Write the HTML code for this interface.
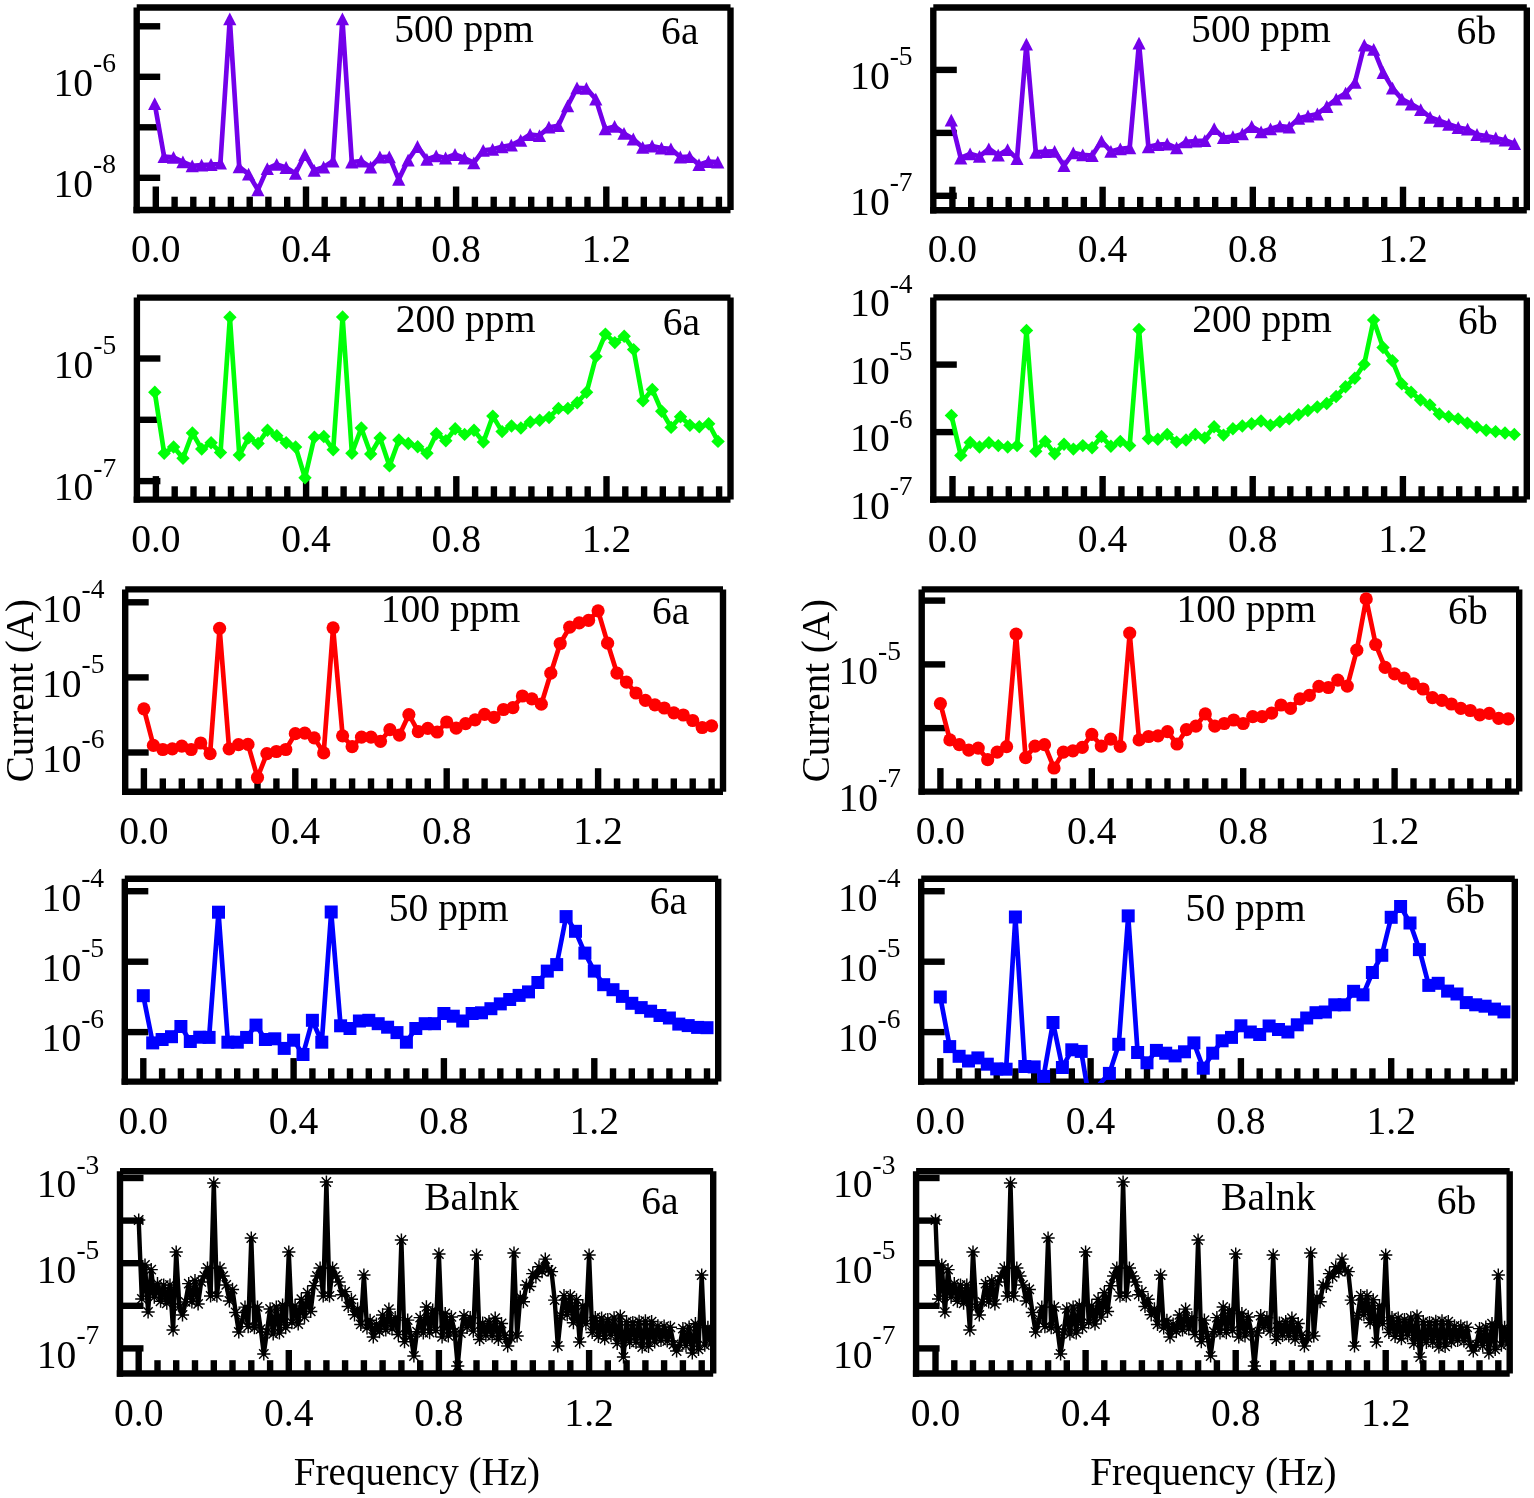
<!DOCTYPE html>
<html><head><meta charset="utf-8"><title>Figure 6</title>
<style>html,body{margin:0;padding:0;background:#fff;overflow:hidden}svg{display:block}</style></head>
<body>
<svg width="1534" height="1498" viewBox="0 0 1534 1498">
<rect width="1534" height="1498" fill="#fff"/>
<g stroke="#000" stroke-width="6.4" fill="none">
<path d="M136.7 7.5V213.2"/>
<path d="M133.5 210H730.5"/>
<path d="M136.7 7.5H730.5"/>
<path d="M730.5 7.5V210"/>
<path d="M155.8 210V186.5"/>
<path d="M174.6 210V196.7"/>
<path d="M193.3 210V196.7"/>
<path d="M212.1 210V196.7"/>
<path d="M230.9 210V196.7"/>
<path d="M249.7 210V196.7"/>
<path d="M268.4 210V196.7"/>
<path d="M287.2 210V196.7"/>
<path d="M306 210V186.5"/>
<path d="M324.7 210V196.7"/>
<path d="M343.5 210V196.7"/>
<path d="M362.3 210V196.7"/>
<path d="M381 210V196.7"/>
<path d="M399.8 210V196.7"/>
<path d="M418.6 210V196.7"/>
<path d="M437.3 210V196.7"/>
<path d="M456.1 210V186.5"/>
<path d="M474.9 210V196.7"/>
<path d="M493.7 210V196.7"/>
<path d="M512.4 210V196.7"/>
<path d="M531.2 210V196.7"/>
<path d="M550 210V196.7"/>
<path d="M568.7 210V196.7"/>
<path d="M587.5 210V196.7"/>
<path d="M606.3 210V186.5"/>
<path d="M625 210V196.7"/>
<path d="M643.8 210V196.7"/>
<path d="M662.6 210V196.7"/>
<path d="M681.4 210V196.7"/>
<path d="M700.1 210V196.7"/>
<path d="M718.9 210V196.7"/>
<path d="M136.7 26.3H160.2"/>
<path d="M136.7 76.8H160.2"/>
<path d="M136.7 127.3H160.2"/>
<path d="M136.7 177.8H160.2"/>
</g>
<g font-family="'Liberation Serif', 'Times New Roman', serif" font-size="39.6" fill="#000">
<text x="155.8" y="262.2" text-anchor="middle">0.0</text>
<text x="306" y="262.2" text-anchor="middle">0.4</text>
<text x="456.1" y="262.2" text-anchor="middle">0.8</text>
<text x="606.3" y="262.2" text-anchor="middle">1.2</text>
<text x="53.5" y="96.1">10<tspan dy="-23.8" font-size="27.5">-6</tspan></text>
<text x="53.5" y="197.1">10<tspan dy="-23.8" font-size="27.5">-8</tspan></text>
<text x="394.2" y="42.2">500 ppm</text>
<text x="661.1" y="44.3">6a</text>
</g>
<clipPath id="c0"><rect x="136.7" y="7.5" width="593.8" height="204"/></clipPath>
<g clip-path="url(#c0)">
<polyline fill="none" stroke="#7300EA" stroke-width="4.7" stroke-linejoin="round" points="154.7,103.7 164.1,156.7 173.5,157.3 182.9,161.9 192.2,165.9 201.6,165.1 211,164.5 220.4,163.1 229.8,18.9 239.2,166.8 248.6,174.2 257.9,189.9 267.3,168.6 276.7,164.4 286.1,167.5 295.5,173.4 304.9,154.7 314.2,170.3 323.6,167.1 333,161 342.4,18.9 351.8,162 361.2,161 370.6,167.1 379.9,157 389.3,156.8 398.7,179.4 408.1,160.1 417.5,146.5 426.9,159.4 436.2,155.9 445.6,158 455,154.5 464.4,158 473.8,162.9 483.2,150.3 492.6,149.3 501.9,146.8 511.3,145.1 520.7,140.4 530.1,134.5 539.5,135.6 548.9,127.2 558.3,125.7 567.6,105.8 577,87.9 586.4,88.4 595.8,99.1 605.2,128.9 614.6,126.4 624,133.4 633.3,139 642.7,147.4 652.1,146 661.5,148.1 670.9,148.8 680.3,157 689.6,156.6 699,164.7 708.4,161.5 717.8,162.2"/>
<g fill="#7300EA">
<path d="M154.7 97.3L161.3 110.1L148.1 110.1Z"/>
<path d="M164.1 150.3L170.7 163.1L157.5 163.1Z"/>
<path d="M173.5 150.9L180.1 163.7L166.9 163.7Z"/>
<path d="M182.9 155.5L189.5 168.3L176.3 168.3Z"/>
<path d="M192.2 159.5L198.8 172.3L185.6 172.3Z"/>
<path d="M201.6 158.7L208.2 171.5L195 171.5Z"/>
<path d="M211 158.1L217.6 170.9L204.4 170.9Z"/>
<path d="M220.4 156.7L227 169.5L213.8 169.5Z"/>
<path d="M229.8 12.5L236.4 25.3L223.2 25.3Z"/>
<path d="M239.2 160.4L245.8 173.2L232.6 173.2Z"/>
<path d="M248.6 167.8L255.2 180.6L242 180.6Z"/>
<path d="M257.9 183.5L264.5 196.3L251.3 196.3Z"/>
<path d="M267.3 162.2L273.9 175L260.7 175Z"/>
<path d="M276.7 158L283.3 170.8L270.1 170.8Z"/>
<path d="M286.1 161.1L292.7 173.9L279.5 173.9Z"/>
<path d="M295.5 167L302.1 179.8L288.9 179.8Z"/>
<path d="M304.9 148.3L311.5 161.1L298.3 161.1Z"/>
<path d="M314.2 163.9L320.8 176.7L307.6 176.7Z"/>
<path d="M323.6 160.7L330.2 173.5L317 173.5Z"/>
<path d="M333 154.6L339.6 167.4L326.4 167.4Z"/>
<path d="M342.4 12.5L349 25.3L335.8 25.3Z"/>
<path d="M351.8 155.6L358.4 168.4L345.2 168.4Z"/>
<path d="M361.2 154.6L367.8 167.4L354.6 167.4Z"/>
<path d="M370.6 160.7L377.2 173.5L364 173.5Z"/>
<path d="M379.9 150.6L386.5 163.4L373.3 163.4Z"/>
<path d="M389.3 150.4L395.9 163.2L382.7 163.2Z"/>
<path d="M398.7 173L405.3 185.8L392.1 185.8Z"/>
<path d="M408.1 153.7L414.7 166.5L401.5 166.5Z"/>
<path d="M417.5 140.1L424.1 152.9L410.9 152.9Z"/>
<path d="M426.9 153L433.5 165.8L420.3 165.8Z"/>
<path d="M436.2 149.5L442.9 162.3L429.6 162.3Z"/>
<path d="M445.6 151.6L452.2 164.4L439 164.4Z"/>
<path d="M455 148.1L461.6 160.9L448.4 160.9Z"/>
<path d="M464.4 151.6L471 164.4L457.8 164.4Z"/>
<path d="M473.8 156.5L480.4 169.3L467.2 169.3Z"/>
<path d="M483.2 143.9L489.8 156.7L476.6 156.7Z"/>
<path d="M492.6 142.9L499.2 155.7L486 155.7Z"/>
<path d="M501.9 140.4L508.5 153.2L495.3 153.2Z"/>
<path d="M511.3 138.7L517.9 151.5L504.7 151.5Z"/>
<path d="M520.7 134L527.3 146.8L514.1 146.8Z"/>
<path d="M530.1 128.1L536.7 140.9L523.5 140.9Z"/>
<path d="M539.5 129.2L546.1 142L532.9 142Z"/>
<path d="M548.9 120.8L555.5 133.6L542.3 133.6Z"/>
<path d="M558.3 119.3L564.9 132.1L551.7 132.1Z"/>
<path d="M567.6 99.4L574.2 112.2L561 112.2Z"/>
<path d="M577 81.5L583.6 94.3L570.4 94.3Z"/>
<path d="M586.4 82L593 94.8L579.8 94.8Z"/>
<path d="M595.8 92.7L602.4 105.5L589.2 105.5Z"/>
<path d="M605.2 122.5L611.8 135.3L598.6 135.3Z"/>
<path d="M614.6 120L621.2 132.8L608 132.8Z"/>
<path d="M624 127L630.6 139.8L617.4 139.8Z"/>
<path d="M633.3 132.6L639.9 145.4L626.7 145.4Z"/>
<path d="M642.7 141L649.3 153.8L636.1 153.8Z"/>
<path d="M652.1 139.6L658.7 152.4L645.5 152.4Z"/>
<path d="M661.5 141.7L668.1 154.5L654.9 154.5Z"/>
<path d="M670.9 142.4L677.5 155.2L664.3 155.2Z"/>
<path d="M680.3 150.6L686.9 163.4L673.7 163.4Z"/>
<path d="M689.6 150.2L696.2 163L683 163Z"/>
<path d="M699 158.3L705.6 171.1L692.4 171.1Z"/>
<path d="M708.4 155.1L715 167.9L701.8 167.9Z"/>
<path d="M717.8 155.8L724.4 168.6L711.2 168.6Z"/>
</g></g>
<g stroke="#000" stroke-width="6.4" fill="none">
<path d="M136.9 297.6V502.8"/>
<path d="M133.7 499.6H730.5"/>
<path d="M136.9 297.6H730.5"/>
<path d="M730.5 297.6V499.6"/>
<path d="M155.9 499.6V476.1"/>
<path d="M174.7 499.6V486.3"/>
<path d="M193.5 499.6V486.3"/>
<path d="M212.2 499.6V486.3"/>
<path d="M231 499.6V486.3"/>
<path d="M249.8 499.6V486.3"/>
<path d="M268.6 499.6V486.3"/>
<path d="M287.3 499.6V486.3"/>
<path d="M306.1 499.6V476.1"/>
<path d="M324.9 499.6V486.3"/>
<path d="M343.6 499.6V486.3"/>
<path d="M362.4 499.6V486.3"/>
<path d="M381.2 499.6V486.3"/>
<path d="M400 499.6V486.3"/>
<path d="M418.8 499.6V486.3"/>
<path d="M437.5 499.6V486.3"/>
<path d="M456.3 499.6V476.1"/>
<path d="M475.1 499.6V486.3"/>
<path d="M493.9 499.6V486.3"/>
<path d="M512.6 499.6V486.3"/>
<path d="M531.4 499.6V486.3"/>
<path d="M550.2 499.6V486.3"/>
<path d="M569 499.6V486.3"/>
<path d="M587.7 499.6V486.3"/>
<path d="M606.5 499.6V476.1"/>
<path d="M625.3 499.6V486.3"/>
<path d="M644.1 499.6V486.3"/>
<path d="M662.8 499.6V486.3"/>
<path d="M681.6 499.6V486.3"/>
<path d="M700.4 499.6V486.3"/>
<path d="M719.1 499.6V486.3"/>
<path d="M136.9 358.5H160.4"/>
<path d="M136.9 419.8H160.4"/>
<path d="M136.9 481.1H160.4"/>
</g>
<g font-family="'Liberation Serif', 'Times New Roman', serif" font-size="39.6" fill="#000">
<text x="155.9" y="551.8" text-anchor="middle">0.0</text>
<text x="306.1" y="551.8" text-anchor="middle">0.4</text>
<text x="456.3" y="551.8" text-anchor="middle">0.8</text>
<text x="606.5" y="551.8" text-anchor="middle">1.2</text>
<text x="53.7" y="377.8">10<tspan dy="-23.8" font-size="27.5">-5</tspan></text>
<text x="53.7" y="500.4">10<tspan dy="-23.8" font-size="27.5">-7</tspan></text>
<text x="395.8" y="332.2">200 ppm</text>
<text x="662.7" y="334.5">6a</text>
</g>
<clipPath id="c1"><rect x="136.9" y="297.6" width="593.6" height="203.5"/></clipPath>
<g clip-path="url(#c1)">
<polyline fill="none" stroke="#00FF08" stroke-width="4.7" stroke-linejoin="round" points="154.8,392.3 164.2,453.3 173.6,447 183,458.2 192.4,433 201.7,449.1 211.1,442.8 220.5,452.6 229.9,317.3 239.3,455.1 248.7,437.9 258.1,443.5 267.5,430.2 276.8,435.8 286.2,442.8 295.6,447 305,477.8 314.4,437.2 323.8,436.5 333.2,449.8 342.6,317 351.9,453.3 361.3,428 370.7,454 380.1,437.9 389.5,465.9 398.9,440 408.3,443.5 417.7,446.7 427,453.3 436.4,433.7 445.8,440.7 455.2,428.8 464.6,434.4 474,430.2 483.4,442.1 492.8,416.1 502.1,431.6 511.5,426 520.9,428 530.3,422 539.7,420.3 549.1,417.5 558.5,408.4 567.9,408.4 577.2,402.8 586.6,392.3 596,356.6 605.4,334.1 614.8,342.6 624.2,336.3 633.6,349.6 643,400.7 652.3,389.5 661.7,411.2 671.1,427.4 680.5,416.8 689.9,425.2 699.3,426.7 708.7,423.8 718,441.4"/>
<g fill="#00FF08">
<path d="M154.8 385.6L161.5 392.3L154.8 399L148.1 392.3Z"/>
<path d="M164.2 446.6L170.9 453.3L164.2 460L157.5 453.3Z"/>
<path d="M173.6 440.3L180.3 447L173.6 453.7L166.9 447Z"/>
<path d="M183 451.5L189.7 458.2L183 464.9L176.3 458.2Z"/>
<path d="M192.4 426.3L199.1 433L192.4 439.7L185.7 433Z"/>
<path d="M201.7 442.4L208.4 449.1L201.7 455.8L195 449.1Z"/>
<path d="M211.1 436.1L217.8 442.8L211.1 449.5L204.4 442.8Z"/>
<path d="M220.5 445.9L227.2 452.6L220.5 459.3L213.8 452.6Z"/>
<path d="M229.9 310.6L236.6 317.3L229.9 324L223.2 317.3Z"/>
<path d="M239.3 448.4L246 455.1L239.3 461.8L232.6 455.1Z"/>
<path d="M248.7 431.2L255.4 437.9L248.7 444.6L242 437.9Z"/>
<path d="M258.1 436.8L264.8 443.5L258.1 450.2L251.4 443.5Z"/>
<path d="M267.5 423.5L274.2 430.2L267.5 436.9L260.8 430.2Z"/>
<path d="M276.8 429.1L283.5 435.8L276.8 442.5L270.1 435.8Z"/>
<path d="M286.2 436.1L292.9 442.8L286.2 449.5L279.5 442.8Z"/>
<path d="M295.6 440.3L302.3 447L295.6 453.7L288.9 447Z"/>
<path d="M305 471.1L311.7 477.8L305 484.5L298.3 477.8Z"/>
<path d="M314.4 430.5L321.1 437.2L314.4 443.9L307.7 437.2Z"/>
<path d="M323.8 429.8L330.5 436.5L323.8 443.2L317.1 436.5Z"/>
<path d="M333.2 443.1L339.9 449.8L333.2 456.5L326.5 449.8Z"/>
<path d="M342.6 310.3L349.2 317L342.6 323.7L335.9 317Z"/>
<path d="M351.9 446.6L358.6 453.3L351.9 460L345.2 453.3Z"/>
<path d="M361.3 421.3L368 428L361.3 434.7L354.6 428Z"/>
<path d="M370.7 447.3L377.4 454L370.7 460.7L364 454Z"/>
<path d="M380.1 431.2L386.8 437.9L380.1 444.6L373.4 437.9Z"/>
<path d="M389.5 459.2L396.2 465.9L389.5 472.6L382.8 465.9Z"/>
<path d="M398.9 433.3L405.6 440L398.9 446.7L392.2 440Z"/>
<path d="M408.3 436.8L415 443.5L408.3 450.2L401.6 443.5Z"/>
<path d="M417.7 440L424.4 446.7L417.7 453.4L411 446.7Z"/>
<path d="M427 446.6L433.7 453.3L427 460L420.3 453.3Z"/>
<path d="M436.4 427L443.1 433.7L436.4 440.4L429.7 433.7Z"/>
<path d="M445.8 434L452.5 440.7L445.8 447.4L439.1 440.7Z"/>
<path d="M455.2 422.1L461.9 428.8L455.2 435.5L448.5 428.8Z"/>
<path d="M464.6 427.7L471.3 434.4L464.6 441.1L457.9 434.4Z"/>
<path d="M474 423.5L480.7 430.2L474 436.9L467.3 430.2Z"/>
<path d="M483.4 435.4L490.1 442.1L483.4 448.8L476.7 442.1Z"/>
<path d="M492.8 409.4L499.4 416.1L492.8 422.8L486.1 416.1Z"/>
<path d="M502.1 424.9L508.8 431.6L502.1 438.3L495.4 431.6Z"/>
<path d="M511.5 419.3L518.2 426L511.5 432.7L504.8 426Z"/>
<path d="M520.9 421.3L527.6 428L520.9 434.7L514.2 428Z"/>
<path d="M530.3 415.3L537 422L530.3 428.7L523.6 422Z"/>
<path d="M539.7 413.6L546.4 420.3L539.7 427L533 420.3Z"/>
<path d="M549.1 410.8L555.8 417.5L549.1 424.2L542.4 417.5Z"/>
<path d="M558.5 401.7L565.2 408.4L558.5 415.1L551.8 408.4Z"/>
<path d="M567.9 401.7L574.6 408.4L567.9 415.1L561.1 408.4Z"/>
<path d="M577.2 396.1L583.9 402.8L577.2 409.5L570.5 402.8Z"/>
<path d="M586.6 385.6L593.3 392.3L586.6 399L579.9 392.3Z"/>
<path d="M596 349.9L602.7 356.6L596 363.3L589.3 356.6Z"/>
<path d="M605.4 327.4L612.1 334.1L605.4 340.8L598.7 334.1Z"/>
<path d="M614.8 335.9L621.5 342.6L614.8 349.3L608.1 342.6Z"/>
<path d="M624.2 329.6L630.9 336.3L624.2 343L617.5 336.3Z"/>
<path d="M633.6 342.9L640.3 349.6L633.6 356.3L626.9 349.6Z"/>
<path d="M643 394L649.7 400.7L643 407.4L636.2 400.7Z"/>
<path d="M652.3 382.8L659 389.5L652.3 396.2L645.6 389.5Z"/>
<path d="M661.7 404.5L668.4 411.2L661.7 417.9L655 411.2Z"/>
<path d="M671.1 420.7L677.8 427.4L671.1 434.1L664.4 427.4Z"/>
<path d="M680.5 410.1L687.2 416.8L680.5 423.5L673.8 416.8Z"/>
<path d="M689.9 418.5L696.6 425.2L689.9 431.9L683.2 425.2Z"/>
<path d="M699.3 420L706 426.7L699.3 433.4L692.6 426.7Z"/>
<path d="M708.7 417.1L715.4 423.8L708.7 430.5L702 423.8Z"/>
<path d="M718 434.7L724.8 441.4L718 448.1L711.3 441.4Z"/>
</g></g>
<g stroke="#000" stroke-width="6.4" fill="none">
<path d="M125.2 589.4V794.9"/>
<path d="M122 791.7H723"/>
<path d="M125.2 589.4H723"/>
<path d="M723 589.4V791.7"/>
<path d="M143.9 791.7V768.2"/>
<path d="M162.8 791.7V778.4"/>
<path d="M181.8 791.7V778.4"/>
<path d="M200.7 791.7V778.4"/>
<path d="M219.6 791.7V778.4"/>
<path d="M238.5 791.7V778.4"/>
<path d="M257.5 791.7V778.4"/>
<path d="M276.4 791.7V778.4"/>
<path d="M295.3 791.7V768.2"/>
<path d="M314.2 791.7V778.4"/>
<path d="M333.1 791.7V778.4"/>
<path d="M352.1 791.7V778.4"/>
<path d="M371 791.7V778.4"/>
<path d="M389.9 791.7V778.4"/>
<path d="M408.9 791.7V778.4"/>
<path d="M427.8 791.7V778.4"/>
<path d="M446.7 791.7V768.2"/>
<path d="M465.6 791.7V778.4"/>
<path d="M484.6 791.7V778.4"/>
<path d="M503.5 791.7V778.4"/>
<path d="M522.4 791.7V778.4"/>
<path d="M541.3 791.7V778.4"/>
<path d="M560.2 791.7V778.4"/>
<path d="M579.2 791.7V778.4"/>
<path d="M598.1 791.7V768.2"/>
<path d="M617 791.7V778.4"/>
<path d="M636 791.7V778.4"/>
<path d="M654.9 791.7V778.4"/>
<path d="M673.8 791.7V778.4"/>
<path d="M692.7 791.7V778.4"/>
<path d="M711.6 791.7V778.4"/>
<path d="M125.2 602.3H148.7"/>
<path d="M125.2 677.4H148.7"/>
<path d="M125.2 752.5H148.7"/>
</g>
<g font-family="'Liberation Serif', 'Times New Roman', serif" font-size="39.6" fill="#000">
<text x="143.9" y="843.9" text-anchor="middle">0.0</text>
<text x="295.3" y="843.9" text-anchor="middle">0.4</text>
<text x="446.7" y="843.9" text-anchor="middle">0.8</text>
<text x="598.1" y="843.9" text-anchor="middle">1.2</text>
<text x="42" y="621.6">10<tspan dy="-23.8" font-size="27.5">-4</tspan></text>
<text x="42" y="696.7">10<tspan dy="-23.8" font-size="27.5">-5</tspan></text>
<text x="42" y="771.8">10<tspan dy="-23.8" font-size="27.5">-6</tspan></text>
<text x="380.7" y="621.5">100 ppm</text>
<text x="652" y="624.2">6a</text>
</g>
<clipPath id="c2"><rect x="125.2" y="589.4" width="597.8" height="203.8"/></clipPath>
<g clip-path="url(#c2)">
<polyline fill="none" stroke="#FF0000" stroke-width="4.7" stroke-linejoin="round" points="143.9,708.8 153.4,745.4 162.8,749.5 172.3,748.8 181.8,746.1 191.2,749.5 200.7,743 210.1,753.6 219.6,628.3 229.1,748.8 238.5,744.7 248,744.4 257.5,777.5 266.9,753.6 276.4,751.5 285.8,749.5 295.3,733.7 304.8,733.1 314.2,737.8 323.7,752.9 333.1,627.8 342.6,735.8 352.1,746.7 361.5,737.2 371,737.2 380.5,741.3 389.9,729.6 399.4,735.1 408.9,714.6 418.3,731.7 427.8,728.3 437.2,732 446.7,722 456.2,728.2 465.6,723.6 475.1,719.8 484.6,714.4 494,717.4 503.5,709.5 512.9,707.7 522.4,696 531.9,698.8 541.3,704.2 550.8,673.2 560.2,643.5 569.7,627.2 579.2,622.9 588.6,620.3 598.1,610.8 607.6,643.2 617,673.2 626.5,682.2 636,693 645.4,700.3 654.9,704.8 664.3,708 673.8,712.8 683.3,715 692.7,720.5 702.2,727.5 711.6,725.8"/>
<g fill="#FF0000">
<circle cx="143.9" cy="708.8" r="6.6"/>
<circle cx="153.4" cy="745.4" r="6.6"/>
<circle cx="162.8" cy="749.5" r="6.6"/>
<circle cx="172.3" cy="748.8" r="6.6"/>
<circle cx="181.8" cy="746.1" r="6.6"/>
<circle cx="191.2" cy="749.5" r="6.6"/>
<circle cx="200.7" cy="743" r="6.6"/>
<circle cx="210.1" cy="753.6" r="6.6"/>
<circle cx="219.6" cy="628.3" r="6.6"/>
<circle cx="229.1" cy="748.8" r="6.6"/>
<circle cx="238.5" cy="744.7" r="6.6"/>
<circle cx="248" cy="744.4" r="6.6"/>
<circle cx="257.5" cy="777.5" r="6.6"/>
<circle cx="266.9" cy="753.6" r="6.6"/>
<circle cx="276.4" cy="751.5" r="6.6"/>
<circle cx="285.8" cy="749.5" r="6.6"/>
<circle cx="295.3" cy="733.7" r="6.6"/>
<circle cx="304.8" cy="733.1" r="6.6"/>
<circle cx="314.2" cy="737.8" r="6.6"/>
<circle cx="323.7" cy="752.9" r="6.6"/>
<circle cx="333.1" cy="627.8" r="6.6"/>
<circle cx="342.6" cy="735.8" r="6.6"/>
<circle cx="352.1" cy="746.7" r="6.6"/>
<circle cx="361.5" cy="737.2" r="6.6"/>
<circle cx="371" cy="737.2" r="6.6"/>
<circle cx="380.5" cy="741.3" r="6.6"/>
<circle cx="389.9" cy="729.6" r="6.6"/>
<circle cx="399.4" cy="735.1" r="6.6"/>
<circle cx="408.9" cy="714.6" r="6.6"/>
<circle cx="418.3" cy="731.7" r="6.6"/>
<circle cx="427.8" cy="728.3" r="6.6"/>
<circle cx="437.2" cy="732" r="6.6"/>
<circle cx="446.7" cy="722" r="6.6"/>
<circle cx="456.2" cy="728.2" r="6.6"/>
<circle cx="465.6" cy="723.6" r="6.6"/>
<circle cx="475.1" cy="719.8" r="6.6"/>
<circle cx="484.6" cy="714.4" r="6.6"/>
<circle cx="494" cy="717.4" r="6.6"/>
<circle cx="503.5" cy="709.5" r="6.6"/>
<circle cx="512.9" cy="707.7" r="6.6"/>
<circle cx="522.4" cy="696" r="6.6"/>
<circle cx="531.9" cy="698.8" r="6.6"/>
<circle cx="541.3" cy="704.2" r="6.6"/>
<circle cx="550.8" cy="673.2" r="6.6"/>
<circle cx="560.2" cy="643.5" r="6.6"/>
<circle cx="569.7" cy="627.2" r="6.6"/>
<circle cx="579.2" cy="622.9" r="6.6"/>
<circle cx="588.6" cy="620.3" r="6.6"/>
<circle cx="598.1" cy="610.8" r="6.6"/>
<circle cx="607.6" cy="643.2" r="6.6"/>
<circle cx="617" cy="673.2" r="6.6"/>
<circle cx="626.5" cy="682.2" r="6.6"/>
<circle cx="636" cy="693" r="6.6"/>
<circle cx="645.4" cy="700.3" r="6.6"/>
<circle cx="654.9" cy="704.8" r="6.6"/>
<circle cx="664.3" cy="708" r="6.6"/>
<circle cx="673.8" cy="712.8" r="6.6"/>
<circle cx="683.3" cy="715" r="6.6"/>
<circle cx="692.7" cy="720.5" r="6.6"/>
<circle cx="702.2" cy="727.5" r="6.6"/>
<circle cx="711.6" cy="725.8" r="6.6"/>
</g></g>
<g stroke="#000" stroke-width="6.4" fill="none">
<path d="M124.8 878.7V1084.8"/>
<path d="M121.6 1081.6H718.2"/>
<path d="M124.8 878.7H718.2"/>
<path d="M718.2 878.7V1081.6"/>
<path d="M143.3 1081.6V1058.1"/>
<path d="M162.1 1081.6V1068.3"/>
<path d="M180.9 1081.6V1068.3"/>
<path d="M199.7 1081.6V1068.3"/>
<path d="M218.5 1081.6V1068.3"/>
<path d="M237.2 1081.6V1068.3"/>
<path d="M256 1081.6V1068.3"/>
<path d="M274.8 1081.6V1068.3"/>
<path d="M293.6 1081.6V1058.1"/>
<path d="M312.4 1081.6V1068.3"/>
<path d="M331.2 1081.6V1068.3"/>
<path d="M350 1081.6V1068.3"/>
<path d="M368.8 1081.6V1068.3"/>
<path d="M387.6 1081.6V1068.3"/>
<path d="M406.4 1081.6V1068.3"/>
<path d="M425.2 1081.6V1068.3"/>
<path d="M443.9 1081.6V1058.1"/>
<path d="M462.7 1081.6V1068.3"/>
<path d="M481.5 1081.6V1068.3"/>
<path d="M500.3 1081.6V1068.3"/>
<path d="M519.1 1081.6V1068.3"/>
<path d="M537.9 1081.6V1068.3"/>
<path d="M556.7 1081.6V1068.3"/>
<path d="M575.5 1081.6V1068.3"/>
<path d="M594.3 1081.6V1058.1"/>
<path d="M613 1081.6V1068.3"/>
<path d="M631.8 1081.6V1068.3"/>
<path d="M650.6 1081.6V1068.3"/>
<path d="M669.4 1081.6V1068.3"/>
<path d="M688.2 1081.6V1068.3"/>
<path d="M707 1081.6V1068.3"/>
<path d="M124.8 891.2H148.3"/>
<path d="M124.8 961.7H148.3"/>
<path d="M124.8 1032.1H148.3"/>
</g>
<g font-family="'Liberation Serif', 'Times New Roman', serif" font-size="39.6" fill="#000">
<text x="143.3" y="1133.8" text-anchor="middle">0.0</text>
<text x="293.6" y="1133.8" text-anchor="middle">0.4</text>
<text x="443.9" y="1133.8" text-anchor="middle">0.8</text>
<text x="594.3" y="1133.8" text-anchor="middle">1.2</text>
<text x="41.6" y="910.5">10<tspan dy="-23.8" font-size="27.5">-4</tspan></text>
<text x="41.6" y="981">10<tspan dy="-23.8" font-size="27.5">-5</tspan></text>
<text x="41.6" y="1051.4">10<tspan dy="-23.8" font-size="27.5">-6</tspan></text>
<text x="388.8" y="920.6">50 ppm</text>
<text x="649.7" y="913.8">6a</text>
</g>
<clipPath id="c3"><rect x="124.8" y="878.7" width="593.4" height="204.4"/></clipPath>
<g clip-path="url(#c3)">
<polyline fill="none" stroke="#0000FF" stroke-width="4.7" stroke-linejoin="round" points="143.3,995.7 152.7,1042.9 162.1,1039.5 171.5,1036.7 180.9,1026.5 190.3,1041.5 199.7,1037.2 209.1,1037.4 218.5,912.2 227.9,1042.2 237.2,1042.2 246.6,1037.4 256,1025.1 265.4,1039.5 274.8,1038.8 284.2,1048.4 293.6,1040.2 303,1054.5 312.4,1020.3 321.8,1042.2 331.2,912 340.6,1025.8 350,1028.5 359.4,1021 368.8,1020.3 378.2,1023.7 387.6,1027.2 397,1032.6 406.4,1042.2 415.8,1028.5 425.2,1023.7 434.5,1023.7 443.9,1013.5 453.3,1016.2 462.7,1021 472.1,1013.5 481.5,1012.8 490.9,1008.7 500.3,1003.9 509.7,999.5 519.1,995.4 528.5,991.9 537.9,982.5 547.3,971.1 556.7,964.6 566.1,916.6 575.5,931.3 584.9,953.1 594.3,971.1 603.7,984.7 613,989.7 622.4,996.4 631.8,1003.3 641.2,1007.6 650.6,1011.2 660,1015.5 669.4,1018 678.8,1024.1 688.2,1025.6 697.6,1027.4 707,1027.7"/>
<g fill="#0000FF">
<rect x="136.8" y="989.2" width="13" height="13"/>
<rect x="146.2" y="1036.4" width="13" height="13"/>
<rect x="155.6" y="1033" width="13" height="13"/>
<rect x="165" y="1030.2" width="13" height="13"/>
<rect x="174.4" y="1020" width="13" height="13"/>
<rect x="183.8" y="1035" width="13" height="13"/>
<rect x="193.2" y="1030.7" width="13" height="13"/>
<rect x="202.6" y="1030.9" width="13" height="13"/>
<rect x="212" y="905.7" width="13" height="13"/>
<rect x="221.4" y="1035.7" width="13" height="13"/>
<rect x="230.8" y="1035.7" width="13" height="13"/>
<rect x="240.1" y="1030.9" width="13" height="13"/>
<rect x="249.5" y="1018.6" width="13" height="13"/>
<rect x="258.9" y="1033" width="13" height="13"/>
<rect x="268.3" y="1032.3" width="13" height="13"/>
<rect x="277.7" y="1041.9" width="13" height="13"/>
<rect x="287.1" y="1033.7" width="13" height="13"/>
<rect x="296.5" y="1048" width="13" height="13"/>
<rect x="305.9" y="1013.8" width="13" height="13"/>
<rect x="315.3" y="1035.7" width="13" height="13"/>
<rect x="324.7" y="905.5" width="13" height="13"/>
<rect x="334.1" y="1019.3" width="13" height="13"/>
<rect x="343.5" y="1022" width="13" height="13"/>
<rect x="352.9" y="1014.5" width="13" height="13"/>
<rect x="362.3" y="1013.8" width="13" height="13"/>
<rect x="371.7" y="1017.2" width="13" height="13"/>
<rect x="381.1" y="1020.7" width="13" height="13"/>
<rect x="390.5" y="1026.1" width="13" height="13"/>
<rect x="399.9" y="1035.7" width="13" height="13"/>
<rect x="409.3" y="1022" width="13" height="13"/>
<rect x="418.7" y="1017.2" width="13" height="13"/>
<rect x="428" y="1017.2" width="13" height="13"/>
<rect x="437.4" y="1007" width="13" height="13"/>
<rect x="446.8" y="1009.7" width="13" height="13"/>
<rect x="456.2" y="1014.5" width="13" height="13"/>
<rect x="465.6" y="1007" width="13" height="13"/>
<rect x="475" y="1006.3" width="13" height="13"/>
<rect x="484.4" y="1002.2" width="13" height="13"/>
<rect x="493.8" y="997.4" width="13" height="13"/>
<rect x="503.2" y="993" width="13" height="13"/>
<rect x="512.6" y="988.9" width="13" height="13"/>
<rect x="522" y="985.4" width="13" height="13"/>
<rect x="531.4" y="976" width="13" height="13"/>
<rect x="540.8" y="964.6" width="13" height="13"/>
<rect x="550.2" y="958.1" width="13" height="13"/>
<rect x="559.6" y="910.1" width="13" height="13"/>
<rect x="569" y="924.8" width="13" height="13"/>
<rect x="578.4" y="946.6" width="13" height="13"/>
<rect x="587.8" y="964.6" width="13" height="13"/>
<rect x="597.2" y="978.2" width="13" height="13"/>
<rect x="606.5" y="983.2" width="13" height="13"/>
<rect x="615.9" y="989.9" width="13" height="13"/>
<rect x="625.3" y="996.8" width="13" height="13"/>
<rect x="634.7" y="1001.1" width="13" height="13"/>
<rect x="644.1" y="1004.7" width="13" height="13"/>
<rect x="653.5" y="1009" width="13" height="13"/>
<rect x="662.9" y="1011.5" width="13" height="13"/>
<rect x="672.3" y="1017.6" width="13" height="13"/>
<rect x="681.7" y="1019.1" width="13" height="13"/>
<rect x="691.1" y="1020.9" width="13" height="13"/>
<rect x="700.5" y="1021.2" width="13" height="13"/>
</g></g>
<g stroke="#000" stroke-width="6.4" fill="none">
<path d="M120 1171.2V1376.7"/>
<path d="M116.8 1373.5H713.2"/>
<path d="M120 1171.2H713.2"/>
<path d="M713.2 1171.2V1373.5"/>
<path d="M138.7 1373.5V1350"/>
<path d="M157.5 1373.5V1360.2"/>
<path d="M176.2 1373.5V1360.2"/>
<path d="M195 1373.5V1360.2"/>
<path d="M213.8 1373.5V1360.2"/>
<path d="M232.5 1373.5V1360.2"/>
<path d="M251.3 1373.5V1360.2"/>
<path d="M270.1 1373.5V1360.2"/>
<path d="M288.8 1373.5V1350"/>
<path d="M307.6 1373.5V1360.2"/>
<path d="M326.4 1373.5V1360.2"/>
<path d="M345.1 1373.5V1360.2"/>
<path d="M363.9 1373.5V1360.2"/>
<path d="M382.6 1373.5V1360.2"/>
<path d="M401.4 1373.5V1360.2"/>
<path d="M420.2 1373.5V1360.2"/>
<path d="M438.9 1373.5V1350"/>
<path d="M457.7 1373.5V1360.2"/>
<path d="M476.5 1373.5V1360.2"/>
<path d="M495.2 1373.5V1360.2"/>
<path d="M514 1373.5V1360.2"/>
<path d="M532.8 1373.5V1360.2"/>
<path d="M551.5 1373.5V1360.2"/>
<path d="M570.3 1373.5V1360.2"/>
<path d="M589.1 1373.5V1350"/>
<path d="M607.8 1373.5V1360.2"/>
<path d="M626.6 1373.5V1360.2"/>
<path d="M645.4 1373.5V1360.2"/>
<path d="M664.1 1373.5V1360.2"/>
<path d="M682.9 1373.5V1360.2"/>
<path d="M701.7 1373.5V1360.2"/>
<path d="M120 1178H143.5"/>
<path d="M120 1220.6H143.5"/>
<path d="M120 1263.2H143.5"/>
<path d="M120 1305.8H143.5"/>
<path d="M120 1348.4H143.5"/>
</g>
<g font-family="'Liberation Serif', 'Times New Roman', serif" font-size="39.6" fill="#000">
<text x="138.7" y="1425.7" text-anchor="middle">0.0</text>
<text x="288.8" y="1425.7" text-anchor="middle">0.4</text>
<text x="438.9" y="1425.7" text-anchor="middle">0.8</text>
<text x="589.1" y="1425.7" text-anchor="middle">1.2</text>
<text x="36.8" y="1197.3">10<tspan dy="-23.8" font-size="27.5">-3</tspan></text>
<text x="36.8" y="1282.5">10<tspan dy="-23.8" font-size="27.5">-5</tspan></text>
<text x="36.8" y="1367.7">10<tspan dy="-23.8" font-size="27.5">-7</tspan></text>
<text x="424.2" y="1209.8">Balnk</text>
<text x="641.3" y="1214.3">6a</text>
</g>
<clipPath id="c4"><rect x="120" y="1171.2" width="593.2" height="203.8"/></clipPath>
<g clip-path="url(#c4)">
<polyline fill="none" stroke="#000000" stroke-width="4.4" stroke-linejoin="round" points="138.7,1220 141.8,1298.9 145,1265 148.1,1312 151.2,1269.6 154.3,1297.2 157.5,1283.7 160.6,1301.2 163.7,1285.1 166.8,1303.2 170,1285 173.1,1330 176.2,1252 179.4,1306.9 182.5,1315 185.6,1301.9 188.7,1283.6 191.9,1301.8 195,1280.7 198.1,1304 201.2,1281.9 204.4,1276 207.5,1268 210.6,1296 213.8,1183 216.9,1296 220,1268 223.1,1276 226.3,1284.9 229.4,1300.9 232.5,1289.4 235.7,1312.4 238.8,1332 241.9,1321 245,1307.1 248.2,1326.6 251.3,1238 254.4,1327.7 257.5,1307 260.7,1329 263.8,1354 266.9,1331.9 270.1,1308.9 273.2,1333.9 276.3,1307 279.4,1332.9 282.6,1305.2 285.7,1327.7 288.8,1252 291.9,1322.7 295.1,1305.9 298.2,1324 301.3,1299.3 304.5,1317.1 307.6,1292.7 310.7,1311.4 313.8,1285.8 317,1276 320.1,1268 323.2,1296 326.4,1182 329.5,1296 332.6,1268 335.7,1276 338.9,1282 342,1294.7 345.1,1291.6 348.2,1306.5 351.4,1299.3 354.5,1314.8 357.6,1308.9 360.8,1324.5 363.9,1275 367,1328 370.1,1320.3 373.3,1337 376.4,1324 379.5,1331.6 382.6,1314.9 385.8,1329.8 388.9,1309.1 392,1328.9 395.2,1317.6 398.3,1334.5 401.4,1240 404.5,1341.7 407.7,1320.1 410.8,1336.4 413.9,1356 417,1331.7 420.2,1317.6 423.3,1332.8 426.4,1306.9 429.6,1332.6 432.7,1310.2 435.8,1330.5 438.9,1254 442.1,1336.9 445.2,1313.5 448.3,1335.9 451.4,1316.9 454.6,1331.7 457.7,1366 460.8,1333 464,1315.7 467.1,1327.3 470.2,1317.7 473.3,1331.1 476.5,1255 479.6,1339.5 482.7,1323.2 485.9,1335.4 489,1321.5 492.1,1335.9 495.2,1318.2 498.4,1339.4 501.5,1323.5 504.6,1335.3 507.7,1346 510.9,1337.9 514,1253 517.1,1336 520.3,1297.1 523.4,1301.7 526.5,1285 529.6,1286.4 532.8,1273.6 535.9,1276.8 539,1266.8 542.1,1271.7 545.3,1259.1 548.4,1269.9 551.5,1271.6 554.7,1300.1 557.8,1346 560.9,1315.8 564,1295.6 567.2,1314.7 570.3,1295.8 573.4,1322.7 576.5,1299.8 579.7,1342 582.8,1305.7 585.9,1323.8 589.1,1255 592.2,1332.5 595.3,1317.5 598.4,1336.3 601.6,1318.1 604.7,1338.7 607.8,1319.6 611,1335.3 614.1,1317.9 617.2,1343.5 620.3,1316 623.5,1357 626.6,1321.7 629.7,1342.5 632.8,1322.5 636,1342.3 639.1,1321.4 642.2,1347 645.4,1320.9 648.5,1346.3 651.6,1321.5 654.7,1342 657.9,1325.8 661,1340.3 664.1,1326.1 667.2,1341 670.4,1327.3 673.5,1344.4 676.6,1351 679.8,1344.9 682.9,1328.6 686,1345.6 689.1,1327.1 692.3,1353 695.4,1323.7 698.5,1349.4 701.7,1275 704.8,1345.1 707.9,1327.4 711,1343.9"/>
<g stroke="#000" stroke-width="1.45" fill="none">
<path d="M132.1 1220H145.3M138.7 1213.4V1226.6M134 1215.3L143.4 1224.7M134 1224.7L143.4 1215.3"/>
<path d="M135.2 1298.9H148.4M141.8 1292.3V1305.5M137.2 1294.3L146.5 1303.6M137.2 1303.6L146.5 1294.3"/>
<path d="M138.4 1265H151.6M145 1258.4V1271.6M140.3 1260.3L149.6 1269.7M140.3 1269.7L149.6 1260.3"/>
<path d="M141.5 1312H154.7M148.1 1305.4V1318.6M143.4 1307.3L152.7 1316.7M143.4 1316.7L152.7 1307.3"/>
<path d="M144.6 1269.6H157.8M151.2 1263V1276.2M146.5 1264.9L155.9 1274.3M146.5 1274.3L155.9 1264.9"/>
<path d="M147.7 1297.2H160.9M154.3 1290.6V1303.8M149.7 1292.5L159 1301.8M149.7 1301.8L159 1292.5"/>
<path d="M150.9 1283.7H164.1M157.5 1277.1V1290.3M152.8 1279.1L162.1 1288.4M152.8 1288.4L162.1 1279.1"/>
<path d="M154 1301.2H167.2M160.6 1294.6V1307.8M155.9 1296.6L165.3 1305.9M155.9 1305.9L165.3 1296.6"/>
<path d="M157.1 1285.1H170.3M163.7 1278.5V1291.7M159.1 1280.4L168.4 1289.7M159.1 1289.7L168.4 1280.4"/>
<path d="M160.2 1303.2H173.4M166.8 1296.6V1309.8M162.2 1298.6L171.5 1307.9M162.2 1307.9L171.5 1298.6"/>
<path d="M163.4 1285H176.6M170 1278.4V1291.6M165.3 1280.3L174.6 1289.7M165.3 1289.7L174.6 1280.3"/>
<path d="M166.5 1330H179.7M173.1 1323.4V1336.6M168.4 1325.3L177.8 1334.7M168.4 1334.7L177.8 1325.3"/>
<path d="M169.6 1252H182.8M176.2 1245.4V1258.6M171.6 1247.3L180.9 1256.7M171.6 1256.7L180.9 1247.3"/>
<path d="M172.8 1306.9H186M179.4 1300.3V1313.5M174.7 1302.2L184 1311.6M174.7 1311.6L184 1302.2"/>
<path d="M175.9 1315H189.1M182.5 1308.4V1321.6M177.8 1310.3L187.2 1319.7M177.8 1319.7L187.2 1310.3"/>
<path d="M179 1301.9H192.2M185.6 1295.3V1308.5M180.9 1297.2L190.3 1306.5M180.9 1306.5L190.3 1297.2"/>
<path d="M182.1 1283.6H195.3M188.7 1277V1290.2M184.1 1278.9L193.4 1288.2M184.1 1288.2L193.4 1278.9"/>
<path d="M185.3 1301.8H198.5M191.9 1295.2V1308.4M187.2 1297.1L196.5 1306.4M187.2 1306.4L196.5 1297.1"/>
<path d="M188.4 1280.7H201.6M195 1274.1V1287.3M190.3 1276L199.7 1285.3M190.3 1285.3L199.7 1276"/>
<path d="M191.5 1304H204.7M198.1 1297.4V1310.6M193.5 1299.3L202.8 1308.6M193.5 1308.6L202.8 1299.3"/>
<path d="M194.7 1281.9H207.8M201.2 1275.3V1288.5M196.6 1277.3L205.9 1286.6M196.6 1286.6L205.9 1277.3"/>
<path d="M197.8 1276H211M204.4 1269.4V1282.6M199.7 1271.3L209 1280.7M199.7 1280.7L209 1271.3"/>
<path d="M200.9 1268H214.1M207.5 1261.4V1274.6M202.8 1263.3L212.2 1272.7M202.8 1272.7L212.2 1263.3"/>
<path d="M204 1296H217.2M210.6 1289.4V1302.6M206 1291.3L215.3 1300.7M206 1300.7L215.3 1291.3"/>
<path d="M207.2 1183H220.4M213.8 1176.4V1189.6M209.1 1178.3L218.4 1187.7M209.1 1187.7L218.4 1178.3"/>
<path d="M210.3 1296H223.5M216.9 1289.4V1302.6M212.2 1291.3L221.6 1300.7M212.2 1300.7L221.6 1291.3"/>
<path d="M213.4 1268H226.6M220 1261.4V1274.6M215.3 1263.3L224.7 1272.7M215.3 1272.7L224.7 1263.3"/>
<path d="M216.5 1276H229.7M223.1 1269.4V1282.6M218.5 1271.3L227.8 1280.7M218.5 1280.7L227.8 1271.3"/>
<path d="M219.7 1284.9H232.9M226.3 1278.3V1291.5M221.6 1280.3L230.9 1289.6M221.6 1289.6L230.9 1280.3"/>
<path d="M222.8 1300.9H236M229.4 1294.3V1307.5M224.7 1296.2L234.1 1305.6M224.7 1305.6L234.1 1296.2"/>
<path d="M225.9 1289.4H239.1M232.5 1282.8V1296M227.9 1284.8L237.2 1294.1M227.9 1294.1L237.2 1284.8"/>
<path d="M229.1 1312.4H242.3M235.7 1305.8V1319M231 1307.7L240.3 1317.1M231 1317.1L240.3 1307.7"/>
<path d="M232.2 1332H245.4M238.8 1325.4V1338.6M234.1 1327.3L243.4 1336.7M234.1 1336.7L243.4 1327.3"/>
<path d="M235.3 1321H248.5M241.9 1314.4V1327.6M237.2 1316.4L246.6 1325.7M237.2 1325.7L246.6 1316.4"/>
<path d="M238.4 1307.1H251.6M245 1300.5V1313.7M240.4 1302.4L249.7 1311.7M240.4 1311.7L249.7 1302.4"/>
<path d="M241.6 1326.6H254.8M248.2 1320V1333.2M243.5 1322L252.8 1331.3M243.5 1331.3L252.8 1322"/>
<path d="M244.7 1238H257.9M251.3 1231.4V1244.6M246.6 1233.3L256 1242.7M246.6 1242.7L256 1233.3"/>
<path d="M247.8 1327.7H261M254.4 1321.1V1334.3M249.8 1323.1L259.1 1332.4M249.8 1332.4L259.1 1323.1"/>
<path d="M250.9 1307H264.1M257.5 1300.4V1313.6M252.9 1302.3L262.2 1311.6M252.9 1311.6L262.2 1302.3"/>
<path d="M254.1 1329H267.3M260.7 1322.4V1335.6M256 1324.4L265.3 1333.7M256 1333.7L265.3 1324.4"/>
<path d="M257.2 1354H270.4M263.8 1347.4V1360.6M259.1 1349.3L268.5 1358.7M259.1 1358.7L268.5 1349.3"/>
<path d="M260.3 1331.9H273.5M266.9 1325.3V1338.5M262.3 1327.2L271.6 1336.5M262.3 1336.5L271.6 1327.2"/>
<path d="M263.5 1308.9H276.7M270.1 1302.3V1315.5M265.4 1304.2L274.7 1313.6M265.4 1313.6L274.7 1304.2"/>
<path d="M266.6 1333.9H279.8M273.2 1327.3V1340.5M268.5 1329.3L277.8 1338.6M268.5 1338.6L277.8 1329.3"/>
<path d="M269.7 1307H282.9M276.3 1300.4V1313.6M271.6 1302.4L281 1311.7M271.6 1311.7L281 1302.4"/>
<path d="M272.8 1332.9H286M279.4 1326.3V1339.5M274.8 1328.3L284.1 1337.6M274.8 1337.6L284.1 1328.3"/>
<path d="M276 1305.2H289.2M282.6 1298.6V1311.8M277.9 1300.5L287.2 1309.8M277.9 1309.8L287.2 1300.5"/>
<path d="M279.1 1327.7H292.3M285.7 1321.1V1334.3M281 1323L290.4 1332.4M281 1332.4L290.4 1323"/>
<path d="M282.2 1252H295.4M288.8 1245.4V1258.6M284.2 1247.3L293.5 1256.7M284.2 1256.7L293.5 1247.3"/>
<path d="M285.3 1322.7H298.5M291.9 1316.1V1329.3M287.3 1318L296.6 1327.3M287.3 1327.3L296.6 1318"/>
<path d="M288.5 1305.9H301.7M295.1 1299.3V1312.5M290.4 1301.2L299.7 1310.5M290.4 1310.5L299.7 1301.2"/>
<path d="M291.6 1324H304.8M298.2 1317.4V1330.6M293.5 1319.4L302.9 1328.7M293.5 1328.7L302.9 1319.4"/>
<path d="M294.7 1299.3H307.9M301.3 1292.7V1305.9M296.7 1294.6L306 1303.9M296.7 1303.9L306 1294.6"/>
<path d="M297.9 1317.1H311.1M304.5 1310.5V1323.7M299.8 1312.4L309.1 1321.7M299.8 1321.7L309.1 1312.4"/>
<path d="M301 1292.7H314.2M307.6 1286.1V1299.3M302.9 1288.1L312.3 1297.4M302.9 1297.4L312.3 1288.1"/>
<path d="M304.1 1311.4H317.3M310.7 1304.8V1318M306 1306.8L315.4 1316.1M306 1316.1L315.4 1306.8"/>
<path d="M307.2 1285.8H320.4M313.8 1279.2V1292.4M309.2 1281.1L318.5 1290.4M309.2 1290.4L318.5 1281.1"/>
<path d="M310.4 1276H323.6M317 1269.4V1282.6M312.3 1271.3L321.6 1280.7M312.3 1280.7L321.6 1271.3"/>
<path d="M313.5 1268H326.7M320.1 1261.4V1274.6M315.4 1263.3L324.8 1272.7M315.4 1272.7L324.8 1263.3"/>
<path d="M316.6 1296H329.8M323.2 1289.4V1302.6M318.6 1291.3L327.9 1300.7M318.6 1300.7L327.9 1291.3"/>
<path d="M319.8 1182H333M326.4 1175.4V1188.6M321.7 1177.3L331 1186.7M321.7 1186.7L331 1177.3"/>
<path d="M322.9 1296H336.1M329.5 1289.4V1302.6M324.8 1291.3L334.1 1300.7M324.8 1300.7L334.1 1291.3"/>
<path d="M326 1268H339.2M332.6 1261.4V1274.6M327.9 1263.3L337.3 1272.7M327.9 1272.7L337.3 1263.3"/>
<path d="M329.1 1276H342.3M335.7 1269.4V1282.6M331.1 1271.3L340.4 1280.7M331.1 1280.7L340.4 1271.3"/>
<path d="M332.3 1282H345.5M338.9 1275.4V1288.6M334.2 1277.3L343.5 1286.6M334.2 1286.6L343.5 1277.3"/>
<path d="M335.4 1294.7H348.6M342 1288.1V1301.3M337.3 1290L346.7 1299.3M337.3 1299.3L346.7 1290"/>
<path d="M338.5 1291.6H351.7M345.1 1285V1298.2M340.4 1286.9L349.8 1296.3M340.4 1296.3L349.8 1286.9"/>
<path d="M341.6 1306.5H354.8M348.2 1299.9V1313.1M343.6 1301.8L352.9 1311.1M343.6 1311.1L352.9 1301.8"/>
<path d="M344.8 1299.3H358M351.4 1292.7V1305.9M346.7 1294.7L356 1304M346.7 1304L356 1294.7"/>
<path d="M347.9 1314.8H361.1M354.5 1308.2V1321.4M349.8 1310.2L359.2 1319.5M349.8 1319.5L359.2 1310.2"/>
<path d="M351 1308.9H364.2M357.6 1302.3V1315.5M353 1304.3L362.3 1313.6M353 1313.6L362.3 1304.3"/>
<path d="M354.2 1324.5H367.4M360.8 1317.9V1331.1M356.1 1319.8L365.4 1329.1M356.1 1329.1L365.4 1319.8"/>
<path d="M357.3 1275H370.5M363.9 1268.4V1281.6M359.2 1270.3L368.5 1279.7M359.2 1279.7L368.5 1270.3"/>
<path d="M360.4 1328H373.6M367 1321.4V1334.6M362.3 1323.3L371.7 1332.6M362.3 1332.6L371.7 1323.3"/>
<path d="M363.5 1320.3H376.7M370.1 1313.7V1326.9M365.5 1315.7L374.8 1325M365.5 1325L374.8 1315.7"/>
<path d="M366.7 1337H379.9M373.3 1330.4V1343.6M368.6 1332.3L377.9 1341.7M368.6 1341.7L377.9 1332.3"/>
<path d="M369.8 1324H383M376.4 1317.4V1330.6M371.7 1319.4L381.1 1328.7M371.7 1328.7L381.1 1319.4"/>
<path d="M372.9 1331.6H386.1M379.5 1325V1338.2M374.9 1327L384.2 1336.3M374.9 1336.3L384.2 1327"/>
<path d="M376 1314.9H389.2M382.6 1308.3V1321.5M378 1310.2L387.3 1319.5M378 1319.5L387.3 1310.2"/>
<path d="M379.2 1329.8H392.4M385.8 1323.2V1336.4M381.1 1325.2L390.4 1334.5M381.1 1334.5L390.4 1325.2"/>
<path d="M382.3 1309.1H395.5M388.9 1302.5V1315.7M384.2 1304.4L393.6 1313.8M384.2 1313.8L393.6 1304.4"/>
<path d="M385.4 1328.9H398.6M392 1322.3V1335.5M387.4 1324.2L396.7 1333.6M387.4 1333.6L396.7 1324.2"/>
<path d="M388.6 1317.6H401.8M395.2 1311V1324.2M390.5 1312.9L399.8 1322.2M390.5 1322.2L399.8 1312.9"/>
<path d="M391.7 1334.5H404.9M398.3 1327.9V1341.1M393.6 1329.8L402.9 1339.2M393.6 1339.2L402.9 1329.8"/>
<path d="M394.8 1240H408M401.4 1233.4V1246.6M396.7 1235.3L406.1 1244.7M396.7 1244.7L406.1 1235.3"/>
<path d="M397.9 1341.7H411.1M404.5 1335.1V1348.3M399.9 1337.1L409.2 1346.4M399.9 1346.4L409.2 1337.1"/>
<path d="M401.1 1320.1H414.3M407.7 1313.5V1326.7M403 1315.5L412.3 1324.8M403 1324.8L412.3 1315.5"/>
<path d="M404.2 1336.4H417.4M410.8 1329.8V1343M406.1 1331.8L415.5 1341.1M406.1 1341.1L415.5 1331.8"/>
<path d="M407.3 1356H420.5M413.9 1349.4V1362.6M409.3 1351.3L418.6 1360.7M409.3 1360.7L418.6 1351.3"/>
<path d="M410.4 1331.7H423.6M417 1325.1V1338.3M412.4 1327.1L421.7 1336.4M412.4 1336.4L421.7 1327.1"/>
<path d="M413.6 1317.6H426.8M420.2 1311V1324.2M415.5 1313L424.8 1322.3M415.5 1322.3L424.8 1313"/>
<path d="M416.7 1332.8H429.9M423.3 1326.2V1339.4M418.6 1328.1L428 1337.5M418.6 1337.5L428 1328.1"/>
<path d="M419.8 1306.9H433M426.4 1300.3V1313.5M421.8 1302.3L431.1 1311.6M421.8 1311.6L431.1 1302.3"/>
<path d="M423 1332.6H436.2M429.6 1326V1339.2M424.9 1327.9L434.2 1337.2M424.9 1337.2L434.2 1327.9"/>
<path d="M426.1 1310.2H439.3M432.7 1303.6V1316.8M428 1305.5L437.4 1314.9M428 1314.9L437.4 1305.5"/>
<path d="M429.2 1330.5H442.4M435.8 1323.9V1337.1M431.1 1325.8L440.5 1335.1M431.1 1335.1L440.5 1325.8"/>
<path d="M432.3 1254H445.5M438.9 1247.4V1260.6M434.3 1249.3L443.6 1258.7M434.3 1258.7L443.6 1249.3"/>
<path d="M435.5 1336.9H448.7M442.1 1330.3V1343.5M437.4 1332.2L446.7 1341.5M437.4 1341.5L446.7 1332.2"/>
<path d="M438.6 1313.5H451.8M445.2 1306.9V1320.1M440.5 1308.8L449.9 1318.2M440.5 1318.2L449.9 1308.8"/>
<path d="M441.7 1335.9H454.9M448.3 1329.3V1342.5M443.7 1331.2L453 1340.5M443.7 1340.5L453 1331.2"/>
<path d="M444.8 1316.9H458.1M451.4 1310.3V1323.5M446.8 1312.3L456.1 1321.6M446.8 1321.6L456.1 1312.3"/>
<path d="M448 1331.7H461.2M454.6 1325.1V1338.3M449.9 1327.1L459.2 1336.4M449.9 1336.4L459.2 1327.1"/>
<path d="M451.1 1366H464.3M457.7 1359.4V1372.6M453 1361.3L462.4 1370.7M453 1370.7L462.4 1361.3"/>
<path d="M454.2 1333H467.4M460.8 1326.4V1339.6M456.2 1328.3L465.5 1337.7M456.2 1337.7L465.5 1328.3"/>
<path d="M457.4 1315.7H470.6M464 1309.1V1322.3M459.3 1311L468.6 1320.3M459.3 1320.3L468.6 1311"/>
<path d="M460.5 1327.3H473.7M467.1 1320.7V1333.9M462.4 1322.7L471.8 1332M462.4 1332L471.8 1322.7"/>
<path d="M463.6 1317.7H476.8M470.2 1311.1V1324.3M465.5 1313.1L474.9 1322.4M465.5 1322.4L474.9 1313.1"/>
<path d="M466.7 1331.1H479.9M473.3 1324.5V1337.7M468.7 1326.4L478 1335.8M468.7 1335.8L478 1326.4"/>
<path d="M469.9 1255H483.1M476.5 1248.4V1261.6M471.8 1250.3L481.1 1259.7M471.8 1259.7L481.1 1250.3"/>
<path d="M473 1339.5H486.2M479.6 1332.9V1346.1M474.9 1334.8L484.3 1344.1M474.9 1344.1L484.3 1334.8"/>
<path d="M476.1 1323.2H489.3M482.7 1316.6V1329.8M478.1 1318.5L487.4 1327.8M478.1 1327.8L487.4 1318.5"/>
<path d="M479.3 1335.4H492.5M485.9 1328.8V1342M481.2 1330.7L490.5 1340M481.2 1340L490.5 1330.7"/>
<path d="M482.4 1321.5H495.6M489 1314.9V1328.1M484.3 1316.9L493.6 1326.2M484.3 1326.2L493.6 1316.9"/>
<path d="M485.5 1335.9H498.7M492.1 1329.3V1342.5M487.4 1331.2L496.8 1340.6M487.4 1340.6L496.8 1331.2"/>
<path d="M488.6 1318.2H501.8M495.2 1311.6V1324.8M490.6 1313.5L499.9 1322.9M490.6 1322.9L499.9 1313.5"/>
<path d="M491.8 1339.4H505M498.4 1332.8V1346M493.7 1334.7L503 1344M493.7 1344L503 1334.7"/>
<path d="M494.9 1323.5H508.1M501.5 1316.9V1330.1M496.8 1318.8L506.2 1328.2M496.8 1328.2L506.2 1318.8"/>
<path d="M498 1335.3H511.2M504.6 1328.7V1341.9M500 1330.6L509.3 1340M500 1340L509.3 1330.6"/>
<path d="M501.1 1346H514.3M507.7 1339.4V1352.6M503.1 1341.3L512.4 1350.7M503.1 1350.7L512.4 1341.3"/>
<path d="M504.3 1337.9H517.5M510.9 1331.3V1344.5M506.2 1333.2L515.5 1342.6M506.2 1342.6L515.5 1333.2"/>
<path d="M507.4 1253H520.6M514 1246.4V1259.6M509.3 1248.3L518.7 1257.7M509.3 1257.7L518.7 1248.3"/>
<path d="M510.5 1336H523.7M517.1 1329.4V1342.6M512.5 1331.3L521.8 1340.7M512.5 1340.7L521.8 1331.3"/>
<path d="M513.7 1297.1H526.9M520.3 1290.5V1303.7M515.6 1292.4L524.9 1301.8M515.6 1301.8L524.9 1292.4"/>
<path d="M516.8 1301.7H530M523.4 1295.1V1308.3M518.7 1297.1L528 1306.4M518.7 1306.4L528 1297.1"/>
<path d="M519.9 1285H533.1M526.5 1278.4V1291.6M521.8 1280.3L531.2 1289.6M521.8 1289.6L531.2 1280.3"/>
<path d="M523 1286.4H536.2M529.6 1279.8V1293M525 1281.7L534.3 1291.1M525 1291.1L534.3 1281.7"/>
<path d="M526.2 1273.6H539.4M532.8 1267V1280.2M528.1 1268.9L537.4 1278.2M528.1 1278.2L537.4 1268.9"/>
<path d="M529.3 1276.8H542.5M535.9 1270.2V1283.4M531.2 1272.1L540.6 1281.5M531.2 1281.5L540.6 1272.1"/>
<path d="M532.4 1266.8H545.6M539 1260.2V1273.4M534.4 1262.2L543.7 1271.5M534.4 1271.5L543.7 1262.2"/>
<path d="M535.5 1271.7H548.7M542.1 1265.1V1278.3M537.5 1267L546.8 1276.3M537.5 1276.3L546.8 1267"/>
<path d="M538.7 1259.1H551.9M545.3 1252.5V1265.7M540.6 1254.5L549.9 1263.8M540.6 1263.8L549.9 1254.5"/>
<path d="M541.8 1269.9H555M548.4 1263.3V1276.5M543.7 1265.2L553.1 1274.6M543.7 1274.6L553.1 1265.2"/>
<path d="M544.9 1271.6H558.1M551.5 1265V1278.2M546.9 1267L556.2 1276.3M546.9 1276.3L556.2 1267"/>
<path d="M548.1 1300.1H561.3M554.7 1293.5V1306.7M550 1295.4L559.3 1304.7M550 1304.7L559.3 1295.4"/>
<path d="M551.2 1346H564.4M557.8 1339.4V1352.6M553.1 1341.3L562.5 1350.7M553.1 1350.7L562.5 1341.3"/>
<path d="M554.3 1315.8H567.5M560.9 1309.2V1322.4M556.2 1311.1L565.6 1320.5M556.2 1320.5L565.6 1311.1"/>
<path d="M557.4 1295.6H570.6M564 1289V1302.2M559.4 1290.9L568.7 1300.2M559.4 1300.2L568.7 1290.9"/>
<path d="M560.6 1314.7H573.8M567.2 1308.1V1321.3M562.5 1310.1L571.8 1319.4M562.5 1319.4L571.8 1310.1"/>
<path d="M563.7 1295.8H576.9M570.3 1289.2V1302.4M565.6 1291.1L575 1300.5M565.6 1300.5L575 1291.1"/>
<path d="M566.8 1322.7H580M573.4 1316.1V1329.3M568.8 1318L578.1 1327.3M568.8 1327.3L578.1 1318"/>
<path d="M569.9 1299.8H583.1M576.5 1293.2V1306.4M571.9 1295.1L581.2 1304.4M571.9 1304.4L581.2 1295.1"/>
<path d="M573.1 1342H586.3M579.7 1335.4V1348.6M575 1337.3L584.3 1346.7M575 1346.7L584.3 1337.3"/>
<path d="M576.2 1305.7H589.4M582.8 1299.1V1312.3M578.1 1301.1L587.5 1310.4M578.1 1310.4L587.5 1301.1"/>
<path d="M579.3 1323.8H592.5M585.9 1317.2V1330.4M581.3 1319.1L590.6 1328.4M581.3 1328.4L590.6 1319.1"/>
<path d="M582.5 1255H595.7M589.1 1248.4V1261.6M584.4 1250.3L593.7 1259.7M584.4 1259.7L593.7 1250.3"/>
<path d="M585.6 1332.5H598.8M592.2 1325.9V1339.1M587.5 1327.9L596.9 1337.2M587.5 1337.2L596.9 1327.9"/>
<path d="M588.7 1317.5H601.9M595.3 1310.9V1324.1M590.6 1312.8L600 1322.2M590.6 1322.2L600 1312.8"/>
<path d="M591.8 1336.3H605M598.4 1329.7V1342.9M593.8 1331.6L603.1 1341M593.8 1341L603.1 1331.6"/>
<path d="M595 1318.1H608.2M601.6 1311.5V1324.7M596.9 1313.5L606.2 1322.8M596.9 1322.8L606.2 1313.5"/>
<path d="M598.1 1338.7H611.3M604.7 1332.1V1345.3M600 1334L609.4 1343.4M600 1343.4L609.4 1334"/>
<path d="M601.2 1319.6H614.4M607.8 1313V1326.2M603.2 1315L612.5 1324.3M603.2 1324.3L612.5 1315"/>
<path d="M604.4 1335.3H617.6M611 1328.7V1341.9M606.3 1330.6L615.6 1340M606.3 1340L615.6 1330.6"/>
<path d="M607.5 1317.9H620.7M614.1 1311.3V1324.5M609.4 1313.3L618.7 1322.6M609.4 1322.6L618.7 1313.3"/>
<path d="M610.6 1343.5H623.8M617.2 1336.9V1350.1M612.5 1338.8L621.9 1348.2M612.5 1348.2L621.9 1338.8"/>
<path d="M613.7 1316H626.9M620.3 1309.4V1322.6M615.7 1311.3L625 1320.6M615.7 1320.6L625 1311.3"/>
<path d="M616.9 1357H630.1M623.5 1350.4V1363.6M618.8 1352.3L628.1 1361.7M618.8 1361.7L628.1 1352.3"/>
<path d="M620 1321.7H633.2M626.6 1315.1V1328.3M621.9 1317.1L631.3 1326.4M621.9 1326.4L631.3 1317.1"/>
<path d="M623.1 1342.5H636.3M629.7 1335.9V1349.1M625.1 1337.8L634.4 1347.2M625.1 1347.2L634.4 1337.8"/>
<path d="M626.2 1322.5H639.4M632.8 1315.9V1329.1M628.2 1317.8L637.5 1327.1M628.2 1327.1L637.5 1317.8"/>
<path d="M629.4 1342.3H642.6M636 1335.7V1348.9M631.3 1337.7L640.6 1347M631.3 1347L640.6 1337.7"/>
<path d="M632.5 1321.4H645.7M639.1 1314.8V1328M634.4 1316.7L643.8 1326M634.4 1326L643.8 1316.7"/>
<path d="M635.6 1347H648.8M642.2 1340.4V1353.6M637.6 1342.3L646.9 1351.7M637.6 1351.7L646.9 1342.3"/>
<path d="M638.8 1320.9H652M645.4 1314.3V1327.5M640.7 1316.3L650 1325.6M640.7 1325.6L650 1316.3"/>
<path d="M641.9 1346.3H655.1M648.5 1339.7V1352.9M643.8 1341.6L653.1 1350.9M643.8 1350.9L653.1 1341.6"/>
<path d="M645 1321.5H658.2M651.6 1314.9V1328.1M646.9 1316.9L656.3 1326.2M646.9 1326.2L656.3 1316.9"/>
<path d="M648.1 1342H661.3M654.7 1335.4V1348.6M650.1 1337.3L659.4 1346.7M650.1 1346.7L659.4 1337.3"/>
<path d="M651.3 1325.8H664.5M657.9 1319.2V1332.4M653.2 1321.2L662.5 1330.5M653.2 1330.5L662.5 1321.2"/>
<path d="M654.4 1340.3H667.6M661 1333.7V1346.9M656.3 1335.6L665.7 1345M656.3 1345L665.7 1335.6"/>
<path d="M657.5 1326.1H670.7M664.1 1319.5V1332.7M659.5 1321.4L668.8 1330.8M659.5 1330.8L668.8 1321.4"/>
<path d="M660.6 1341H673.8M667.2 1334.4V1347.6M662.6 1336.3L671.9 1345.7M662.6 1345.7L671.9 1336.3"/>
<path d="M663.8 1327.3H677M670.4 1320.7V1333.9M665.7 1322.6L675 1332M665.7 1332L675 1322.6"/>
<path d="M666.9 1344.4H680.1M673.5 1337.8V1351M668.8 1339.8L678.2 1349.1M668.8 1349.1L678.2 1339.8"/>
<path d="M670 1351H683.2M676.6 1344.4V1357.6M672 1346.3L681.3 1355.7M672 1355.7L681.3 1346.3"/>
<path d="M673.2 1344.9H686.4M679.8 1338.3V1351.5M675.1 1340.2L684.4 1349.5M675.1 1349.5L684.4 1340.2"/>
<path d="M676.3 1328.6H689.5M682.9 1322V1335.2M678.2 1323.9L687.6 1333.3M678.2 1333.3L687.6 1323.9"/>
<path d="M679.4 1345.6H692.6M686 1339V1352.2M681.3 1341L690.7 1350.3M681.3 1350.3L690.7 1341"/>
<path d="M682.5 1327.1H695.7M689.1 1320.5V1333.7M684.5 1322.4L693.8 1331.7M684.5 1331.7L693.8 1322.4"/>
<path d="M685.7 1353H698.9M692.3 1346.4V1359.6M687.6 1348.3L696.9 1357.7M687.6 1357.7L696.9 1348.3"/>
<path d="M688.8 1323.7H702M695.4 1317.1V1330.3M690.7 1319L700.1 1328.4M690.7 1328.4L700.1 1319"/>
<path d="M691.9 1349.4H705.1M698.5 1342.8V1356M693.9 1344.7L703.2 1354M693.9 1354L703.2 1344.7"/>
<path d="M695.1 1275H708.3M701.7 1268.4V1281.6M697 1270.3L706.3 1279.7M697 1279.7L706.3 1270.3"/>
<path d="M698.2 1345.1H711.4M704.8 1338.5V1351.7M700.1 1340.4L709.4 1349.7M700.1 1349.7L709.4 1340.4"/>
<path d="M701.3 1327.4H714.5M707.9 1320.8V1334M703.2 1322.7L712.6 1332M703.2 1332L712.6 1322.7"/>
<path d="M704.4 1343.9H717.6M711 1337.3V1350.5M706.4 1339.2L715.7 1348.5M706.4 1348.5L715.7 1339.2"/>
</g></g>
<g stroke="#000" stroke-width="6.4" fill="none">
<path d="M933.3 7.5V213.4"/>
<path d="M930.1 210.2H1526.8"/>
<path d="M933.3 7.5H1526.8"/>
<path d="M1526.8 7.5V210.2"/>
<path d="M952.4 210.2V186.7"/>
<path d="M971.2 210.2V196.9"/>
<path d="M989.9 210.2V196.9"/>
<path d="M1008.7 210.2V196.9"/>
<path d="M1027.5 210.2V196.9"/>
<path d="M1046.3 210.2V196.9"/>
<path d="M1065 210.2V196.9"/>
<path d="M1083.8 210.2V196.9"/>
<path d="M1102.6 210.2V186.7"/>
<path d="M1121.4 210.2V196.9"/>
<path d="M1140.2 210.2V196.9"/>
<path d="M1158.9 210.2V196.9"/>
<path d="M1177.7 210.2V196.9"/>
<path d="M1196.5 210.2V196.9"/>
<path d="M1215.2 210.2V196.9"/>
<path d="M1234 210.2V196.9"/>
<path d="M1252.8 210.2V186.7"/>
<path d="M1271.6 210.2V196.9"/>
<path d="M1290.3 210.2V196.9"/>
<path d="M1309.1 210.2V196.9"/>
<path d="M1327.9 210.2V196.9"/>
<path d="M1346.7 210.2V196.9"/>
<path d="M1365.5 210.2V196.9"/>
<path d="M1384.2 210.2V196.9"/>
<path d="M1403 210.2V186.7"/>
<path d="M1421.8 210.2V196.9"/>
<path d="M1440.5 210.2V196.9"/>
<path d="M1459.3 210.2V196.9"/>
<path d="M1478.1 210.2V196.9"/>
<path d="M1496.9 210.2V196.9"/>
<path d="M1515.7 210.2V196.9"/>
<path d="M933.3 69.9H956.8"/>
<path d="M933.3 132.9H956.8"/>
<path d="M933.3 195.8H956.8"/>
</g>
<g font-family="'Liberation Serif', 'Times New Roman', serif" font-size="39.6" fill="#000">
<text x="952.4" y="262.4" text-anchor="middle">0.0</text>
<text x="1102.6" y="262.4" text-anchor="middle">0.4</text>
<text x="1252.8" y="262.4" text-anchor="middle">0.8</text>
<text x="1403" y="262.4" text-anchor="middle">1.2</text>
<text x="850.1" y="89.2">10<tspan dy="-23.8" font-size="27.5">-5</tspan></text>
<text x="850.1" y="215.1">10<tspan dy="-23.8" font-size="27.5">-7</tspan></text>
<text x="1191.1" y="42.2">500 ppm</text>
<text x="1456.6" y="43.9">6b</text>
</g>
<clipPath id="c5"><rect x="933.3" y="7.5" width="593.5" height="204.2"/></clipPath>
<g clip-path="url(#c5)">
<polyline fill="none" stroke="#7300EA" stroke-width="4.7" stroke-linejoin="round" points="951.3,120.1 960.7,158 970.1,153.8 979.5,156.4 988.8,148.8 998.2,155.2 1007.6,149.6 1017,158.7 1026.4,44.1 1035.8,152.3 1045.2,151.7 1054.6,151.4 1064,165.7 1073.3,152.9 1082.7,154.9 1092.1,155.6 1101.5,141.2 1110.9,151.4 1120.3,148.8 1129.7,147.8 1139,43.1 1148.4,146.8 1157.8,144.7 1167.2,144 1176.6,147.9 1186,141.8 1195.4,141 1204.8,140.7 1214.2,128.6 1223.5,137.7 1232.9,136.7 1242.3,133.9 1251.7,126.5 1261.1,131.9 1270.5,128.9 1279.9,126.1 1289.2,127.2 1298.6,118.4 1308,116 1317.4,114 1326.8,106.5 1336.2,99.1 1345.6,93.2 1355,82.3 1364.3,45.2 1373.7,49.4 1383.1,72.5 1392.5,88.1 1401.9,99.1 1411.3,104 1420.7,109.6 1430.1,117.3 1439.5,120.8 1448.8,124.3 1458.2,127.5 1467.6,129.2 1477,134.5 1486.4,136 1495.8,138 1505.2,140.2 1514.5,143.7"/>
<g fill="#7300EA">
<path d="M951.3 113.7L957.9 126.5L944.7 126.5Z"/>
<path d="M960.7 151.6L967.3 164.4L954.1 164.4Z"/>
<path d="M970.1 147.4L976.7 160.2L963.5 160.2Z"/>
<path d="M979.5 150L986.1 162.8L972.9 162.8Z"/>
<path d="M988.8 142.4L995.4 155.2L982.2 155.2Z"/>
<path d="M998.2 148.8L1004.8 161.6L991.6 161.6Z"/>
<path d="M1007.6 143.2L1014.2 156L1001 156Z"/>
<path d="M1017 152.3L1023.6 165.1L1010.4 165.1Z"/>
<path d="M1026.4 37.7L1033 50.5L1019.8 50.5Z"/>
<path d="M1035.8 145.9L1042.4 158.7L1029.2 158.7Z"/>
<path d="M1045.2 145.3L1051.8 158.1L1038.6 158.1Z"/>
<path d="M1054.6 145L1061.2 157.8L1048 157.8Z"/>
<path d="M1064 159.3L1070.5 172.1L1057.4 172.1Z"/>
<path d="M1073.3 146.5L1079.9 159.3L1066.7 159.3Z"/>
<path d="M1082.7 148.5L1089.3 161.3L1076.1 161.3Z"/>
<path d="M1092.1 149.2L1098.7 162L1085.5 162Z"/>
<path d="M1101.5 134.8L1108.1 147.6L1094.9 147.6Z"/>
<path d="M1110.9 145L1117.5 157.8L1104.3 157.8Z"/>
<path d="M1120.3 142.4L1126.9 155.2L1113.7 155.2Z"/>
<path d="M1129.7 141.4L1136.3 154.2L1123.1 154.2Z"/>
<path d="M1139 36.7L1145.6 49.5L1132.5 49.5Z"/>
<path d="M1148.4 140.4L1155 153.2L1141.8 153.2Z"/>
<path d="M1157.8 138.3L1164.4 151.1L1151.2 151.1Z"/>
<path d="M1167.2 137.6L1173.8 150.4L1160.6 150.4Z"/>
<path d="M1176.6 141.5L1183.2 154.3L1170 154.3Z"/>
<path d="M1186 135.4L1192.6 148.2L1179.4 148.2Z"/>
<path d="M1195.4 134.6L1202 147.4L1188.8 147.4Z"/>
<path d="M1204.8 134.3L1211.4 147.1L1198.2 147.1Z"/>
<path d="M1214.2 122.2L1220.8 135L1207.6 135Z"/>
<path d="M1223.5 131.3L1230.1 144.1L1216.9 144.1Z"/>
<path d="M1232.9 130.3L1239.5 143.1L1226.3 143.1Z"/>
<path d="M1242.3 127.5L1248.9 140.3L1235.7 140.3Z"/>
<path d="M1251.7 120.1L1258.3 132.9L1245.1 132.9Z"/>
<path d="M1261.1 125.5L1267.7 138.3L1254.5 138.3Z"/>
<path d="M1270.5 122.5L1277.1 135.3L1263.9 135.3Z"/>
<path d="M1279.9 119.7L1286.5 132.5L1273.3 132.5Z"/>
<path d="M1289.2 120.8L1295.8 133.6L1282.7 133.6Z"/>
<path d="M1298.6 112L1305.2 124.8L1292 124.8Z"/>
<path d="M1308 109.6L1314.6 122.4L1301.4 122.4Z"/>
<path d="M1317.4 107.6L1324 120.4L1310.8 120.4Z"/>
<path d="M1326.8 100.1L1333.4 112.9L1320.2 112.9Z"/>
<path d="M1336.2 92.7L1342.8 105.5L1329.6 105.5Z"/>
<path d="M1345.6 86.8L1352.2 99.6L1339 99.6Z"/>
<path d="M1355 75.9L1361.6 88.7L1348.4 88.7Z"/>
<path d="M1364.3 38.8L1370.9 51.6L1357.8 51.6Z"/>
<path d="M1373.7 43L1380.3 55.8L1367.1 55.8Z"/>
<path d="M1383.1 66.1L1389.7 78.9L1376.5 78.9Z"/>
<path d="M1392.5 81.7L1399.1 94.5L1385.9 94.5Z"/>
<path d="M1401.9 92.7L1408.5 105.5L1395.3 105.5Z"/>
<path d="M1411.3 97.6L1417.9 110.4L1404.7 110.4Z"/>
<path d="M1420.7 103.2L1427.3 116L1414.1 116Z"/>
<path d="M1430.1 110.9L1436.7 123.7L1423.5 123.7Z"/>
<path d="M1439.5 114.4L1446 127.2L1432.9 127.2Z"/>
<path d="M1448.8 117.9L1455.4 130.7L1442.2 130.7Z"/>
<path d="M1458.2 121.1L1464.8 133.9L1451.6 133.9Z"/>
<path d="M1467.6 122.8L1474.2 135.6L1461 135.6Z"/>
<path d="M1477 128.1L1483.6 140.9L1470.4 140.9Z"/>
<path d="M1486.4 129.6L1493 142.4L1479.8 142.4Z"/>
<path d="M1495.8 131.6L1502.4 144.4L1489.2 144.4Z"/>
<path d="M1505.2 133.8L1511.8 146.6L1498.6 146.6Z"/>
<path d="M1514.5 137.3L1521.1 150.1L1508 150.1Z"/>
</g></g>
<g stroke="#000" stroke-width="6.4" fill="none">
<path d="M933.3 297.4V502.7"/>
<path d="M930.1 499.5H1526.8"/>
<path d="M933.3 297.4H1526.8"/>
<path d="M1526.8 297.4V499.5"/>
<path d="M952.5 499.5V476"/>
<path d="M971.3 499.5V486.2"/>
<path d="M990 499.5V486.2"/>
<path d="M1008.8 499.5V486.2"/>
<path d="M1027.6 499.5V486.2"/>
<path d="M1046.3 499.5V486.2"/>
<path d="M1065.1 499.5V486.2"/>
<path d="M1083.9 499.5V486.2"/>
<path d="M1102.6 499.5V476"/>
<path d="M1121.4 499.5V486.2"/>
<path d="M1140.2 499.5V486.2"/>
<path d="M1158.9 499.5V486.2"/>
<path d="M1177.7 499.5V486.2"/>
<path d="M1196.4 499.5V486.2"/>
<path d="M1215.2 499.5V486.2"/>
<path d="M1234 499.5V486.2"/>
<path d="M1252.7 499.5V476"/>
<path d="M1271.5 499.5V486.2"/>
<path d="M1290.3 499.5V486.2"/>
<path d="M1309 499.5V486.2"/>
<path d="M1327.8 499.5V486.2"/>
<path d="M1346.6 499.5V486.2"/>
<path d="M1365.3 499.5V486.2"/>
<path d="M1384.1 499.5V486.2"/>
<path d="M1402.9 499.5V476"/>
<path d="M1421.6 499.5V486.2"/>
<path d="M1440.4 499.5V486.2"/>
<path d="M1459.2 499.5V486.2"/>
<path d="M1477.9 499.5V486.2"/>
<path d="M1496.7 499.5V486.2"/>
<path d="M1515.5 499.5V486.2"/>
<path d="M933.3 364.6H956.8"/>
<path d="M933.3 432.1H956.8"/>
</g>
<g font-family="'Liberation Serif', 'Times New Roman', serif" font-size="39.6" fill="#000">
<text x="952.5" y="551.7" text-anchor="middle">0.0</text>
<text x="1102.6" y="551.7" text-anchor="middle">0.4</text>
<text x="1252.7" y="551.7" text-anchor="middle">0.8</text>
<text x="1402.9" y="551.7" text-anchor="middle">1.2</text>
<text x="850.1" y="316.4">10<tspan dy="-23.8" font-size="27.5">-4</tspan></text>
<text x="850.1" y="383.9">10<tspan dy="-23.8" font-size="27.5">-5</tspan></text>
<text x="850.1" y="451.4">10<tspan dy="-23.8" font-size="27.5">-6</tspan></text>
<text x="850.1" y="518.9">10<tspan dy="-23.8" font-size="27.5">-7</tspan></text>
<text x="1192.2" y="332.2">200 ppm</text>
<text x="1458.1" y="333.8">6b</text>
</g>
<clipPath id="c6"><rect x="933.3" y="297.4" width="593.5" height="203.6"/></clipPath>
<g clip-path="url(#c6)">
<polyline fill="none" stroke="#00FF08" stroke-width="4.7" stroke-linejoin="round" points="951.4,415.4 960.8,455.4 970.2,442.5 979.5,447 988.9,442.8 998.3,445.6 1007.7,447 1017.1,445.6 1026.5,330.4 1035.8,451.2 1045.2,441.4 1054.6,453.7 1064,444.2 1073.4,449.1 1082.8,445.6 1092.1,447.7 1101.5,436.5 1110.9,446.3 1120.3,441.4 1129.7,445.6 1139,329.5 1148.4,438.6 1157.8,439.3 1167.2,434.4 1176.6,442.1 1186,440 1195.3,434.4 1204.7,437.9 1214.1,426.7 1223.5,435.1 1232.9,428.8 1242.3,426 1251.6,423.8 1261,421 1270.4,425.2 1279.8,421.7 1289.2,418.9 1298.6,414.7 1307.9,410.5 1317.3,407 1326.7,403.5 1336.1,396.5 1345.5,386.7 1354.8,378.3 1364.2,364.3 1373.6,320.1 1383,347.5 1392.4,360.8 1401.8,383.9 1411.1,392.3 1420.5,400 1429.9,404.9 1439.3,414 1448.7,416.8 1458.1,418.9 1467.4,423.1 1476.8,427.3 1486.2,430.2 1495.6,431.6 1505,433 1514.3,434.4"/>
<g fill="#00FF08">
<path d="M951.4 408.7L958.1 415.4L951.4 422.1L944.7 415.4Z"/>
<path d="M960.8 448.7L967.5 455.4L960.8 462.1L954.1 455.4Z"/>
<path d="M970.2 435.8L976.9 442.5L970.2 449.2L963.5 442.5Z"/>
<path d="M979.5 440.3L986.2 447L979.5 453.7L972.8 447Z"/>
<path d="M988.9 436.1L995.6 442.8L988.9 449.5L982.2 442.8Z"/>
<path d="M998.3 438.9L1005 445.6L998.3 452.3L991.6 445.6Z"/>
<path d="M1007.7 440.3L1014.4 447L1007.7 453.7L1001 447Z"/>
<path d="M1017.1 438.9L1023.8 445.6L1017.1 452.3L1010.4 445.6Z"/>
<path d="M1026.5 323.7L1033.2 330.4L1026.5 337.1L1019.8 330.4Z"/>
<path d="M1035.8 444.5L1042.5 451.2L1035.8 457.9L1029.1 451.2Z"/>
<path d="M1045.2 434.7L1051.9 441.4L1045.2 448.1L1038.5 441.4Z"/>
<path d="M1054.6 447L1061.3 453.7L1054.6 460.4L1047.9 453.7Z"/>
<path d="M1064 437.5L1070.7 444.2L1064 450.9L1057.3 444.2Z"/>
<path d="M1073.4 442.4L1080.1 449.1L1073.4 455.8L1066.7 449.1Z"/>
<path d="M1082.8 438.9L1089.5 445.6L1082.8 452.3L1076.1 445.6Z"/>
<path d="M1092.1 441L1098.8 447.7L1092.1 454.4L1085.4 447.7Z"/>
<path d="M1101.5 429.8L1108.2 436.5L1101.5 443.2L1094.8 436.5Z"/>
<path d="M1110.9 439.6L1117.6 446.3L1110.9 453L1104.2 446.3Z"/>
<path d="M1120.3 434.7L1127 441.4L1120.3 448.1L1113.6 441.4Z"/>
<path d="M1129.7 438.9L1136.4 445.6L1129.7 452.3L1123 445.6Z"/>
<path d="M1139 322.8L1145.8 329.5L1139 336.2L1132.3 329.5Z"/>
<path d="M1148.4 431.9L1155.1 438.6L1148.4 445.3L1141.7 438.6Z"/>
<path d="M1157.8 432.6L1164.5 439.3L1157.8 446L1151.1 439.3Z"/>
<path d="M1167.2 427.7L1173.9 434.4L1167.2 441.1L1160.5 434.4Z"/>
<path d="M1176.6 435.4L1183.3 442.1L1176.6 448.8L1169.9 442.1Z"/>
<path d="M1186 433.3L1192.7 440L1186 446.7L1179.3 440Z"/>
<path d="M1195.3 427.7L1202 434.4L1195.3 441.1L1188.6 434.4Z"/>
<path d="M1204.7 431.2L1211.4 437.9L1204.7 444.6L1198 437.9Z"/>
<path d="M1214.1 420L1220.8 426.7L1214.1 433.4L1207.4 426.7Z"/>
<path d="M1223.5 428.4L1230.2 435.1L1223.5 441.8L1216.8 435.1Z"/>
<path d="M1232.9 422.1L1239.6 428.8L1232.9 435.5L1226.2 428.8Z"/>
<path d="M1242.3 419.3L1249 426L1242.3 432.7L1235.6 426Z"/>
<path d="M1251.6 417.1L1258.3 423.8L1251.6 430.5L1244.9 423.8Z"/>
<path d="M1261 414.3L1267.7 421L1261 427.7L1254.3 421Z"/>
<path d="M1270.4 418.5L1277.1 425.2L1270.4 431.9L1263.7 425.2Z"/>
<path d="M1279.8 415L1286.5 421.7L1279.8 428.4L1273.1 421.7Z"/>
<path d="M1289.2 412.2L1295.9 418.9L1289.2 425.6L1282.5 418.9Z"/>
<path d="M1298.6 408L1305.3 414.7L1298.6 421.4L1291.9 414.7Z"/>
<path d="M1307.9 403.8L1314.6 410.5L1307.9 417.2L1301.2 410.5Z"/>
<path d="M1317.3 400.3L1324 407L1317.3 413.7L1310.6 407Z"/>
<path d="M1326.7 396.8L1333.4 403.5L1326.7 410.2L1320 403.5Z"/>
<path d="M1336.1 389.8L1342.8 396.5L1336.1 403.2L1329.4 396.5Z"/>
<path d="M1345.5 380L1352.2 386.7L1345.5 393.4L1338.8 386.7Z"/>
<path d="M1354.8 371.6L1361.5 378.3L1354.8 385L1348.1 378.3Z"/>
<path d="M1364.2 357.6L1370.9 364.3L1364.2 371L1357.5 364.3Z"/>
<path d="M1373.6 313.4L1380.3 320.1L1373.6 326.8L1366.9 320.1Z"/>
<path d="M1383 340.8L1389.7 347.5L1383 354.2L1376.3 347.5Z"/>
<path d="M1392.4 354.1L1399.1 360.8L1392.4 367.5L1385.7 360.8Z"/>
<path d="M1401.8 377.2L1408.5 383.9L1401.8 390.6L1395.1 383.9Z"/>
<path d="M1411.1 385.6L1417.8 392.3L1411.1 399L1404.4 392.3Z"/>
<path d="M1420.5 393.3L1427.2 400L1420.5 406.7L1413.8 400Z"/>
<path d="M1429.9 398.2L1436.6 404.9L1429.9 411.6L1423.2 404.9Z"/>
<path d="M1439.3 407.3L1446 414L1439.3 420.7L1432.6 414Z"/>
<path d="M1448.7 410.1L1455.4 416.8L1448.7 423.5L1442 416.8Z"/>
<path d="M1458.1 412.2L1464.8 418.9L1458.1 425.6L1451.4 418.9Z"/>
<path d="M1467.4 416.4L1474.1 423.1L1467.4 429.8L1460.7 423.1Z"/>
<path d="M1476.8 420.6L1483.5 427.3L1476.8 434L1470.1 427.3Z"/>
<path d="M1486.2 423.5L1492.9 430.2L1486.2 436.9L1479.5 430.2Z"/>
<path d="M1495.6 424.9L1502.3 431.6L1495.6 438.3L1488.9 431.6Z"/>
<path d="M1505 426.3L1511.7 433L1505 439.7L1498.3 433Z"/>
<path d="M1514.3 427.7L1521 434.4L1514.3 441.1L1507.6 434.4Z"/>
</g></g>
<g stroke="#000" stroke-width="6.4" fill="none">
<path d="M921.7 589.4V794.8"/>
<path d="M918.5 791.6H1519.2"/>
<path d="M921.7 589.4H1519.2"/>
<path d="M1519.2 589.4V791.6"/>
<path d="M940.4 791.6V768.1"/>
<path d="M959.3 791.6V778.3"/>
<path d="M978.2 791.6V778.3"/>
<path d="M997.2 791.6V778.3"/>
<path d="M1016.1 791.6V778.3"/>
<path d="M1035 791.6V778.3"/>
<path d="M1054 791.6V778.3"/>
<path d="M1072.9 791.6V778.3"/>
<path d="M1091.8 791.6V768.1"/>
<path d="M1110.7 791.6V778.3"/>
<path d="M1129.7 791.6V778.3"/>
<path d="M1148.6 791.6V778.3"/>
<path d="M1167.5 791.6V778.3"/>
<path d="M1186.4 791.6V778.3"/>
<path d="M1205.3 791.6V778.3"/>
<path d="M1224.3 791.6V778.3"/>
<path d="M1243.2 791.6V768.1"/>
<path d="M1262.1 791.6V778.3"/>
<path d="M1281 791.6V778.3"/>
<path d="M1300 791.6V778.3"/>
<path d="M1318.9 791.6V778.3"/>
<path d="M1337.8 791.6V778.3"/>
<path d="M1356.8 791.6V778.3"/>
<path d="M1375.7 791.6V778.3"/>
<path d="M1394.6 791.6V768.1"/>
<path d="M1413.5 791.6V778.3"/>
<path d="M1432.5 791.6V778.3"/>
<path d="M1451.4 791.6V778.3"/>
<path d="M1470.3 791.6V778.3"/>
<path d="M1489.2 791.6V778.3"/>
<path d="M1508.2 791.6V778.3"/>
<path d="M921.7 600.6H945.2"/>
<path d="M921.7 664.4H945.2"/>
<path d="M921.7 728.1H945.2"/>
</g>
<g font-family="'Liberation Serif', 'Times New Roman', serif" font-size="39.6" fill="#000">
<text x="940.4" y="843.8" text-anchor="middle">0.0</text>
<text x="1091.8" y="843.8" text-anchor="middle">0.4</text>
<text x="1243.2" y="843.8" text-anchor="middle">0.8</text>
<text x="1394.6" y="843.8" text-anchor="middle">1.2</text>
<text x="838.5" y="683.6">10<tspan dy="-23.8" font-size="27.5">-5</tspan></text>
<text x="838.5" y="811.1">10<tspan dy="-23.8" font-size="27.5">-7</tspan></text>
<text x="1176.4" y="621.5">100 ppm</text>
<text x="1448.1" y="623.8">6b</text>
</g>
<clipPath id="c7"><rect x="921.7" y="589.4" width="597.5" height="203.7"/></clipPath>
<g clip-path="url(#c7)">
<polyline fill="none" stroke="#FF0000" stroke-width="4.7" stroke-linejoin="round" points="940.4,703.6 949.9,739.9 959.3,744.7 968.8,750.2 978.2,748.1 987.7,759.7 997.2,752.2 1006.6,746.7 1016.1,634.1 1025.6,757.7 1035,746.1 1044.5,744.7 1054,768 1063.4,752.2 1072.9,750.8 1082.3,747.4 1091.8,734.4 1101.3,746.1 1110.7,739.2 1120.2,746.4 1129.7,633.1 1139.1,739.9 1148.6,736.5 1158,735.8 1167.5,731.7 1177,744 1186.4,729.6 1195.9,726.2 1205.3,713.9 1214.8,726.2 1224.3,723.5 1233.7,720 1243.2,723.5 1252.7,716.6 1262.1,716.6 1271.6,713.2 1281,705 1290.5,708.4 1300,698.8 1309.4,695.4 1318.9,686.4 1328.4,687.5 1337.8,680.1 1347.3,686.1 1356.8,650.2 1366.2,598.9 1375.7,644.5 1385.1,667.4 1394.6,673.9 1404.1,678.2 1413.5,683.9 1423,689 1432.5,697.6 1441.9,700.4 1451.4,704 1460.8,708.3 1470.3,710.5 1479.8,714.8 1489.2,713.3 1498.7,718.4 1508.2,718.8"/>
<g fill="#FF0000">
<circle cx="940.4" cy="703.6" r="6.6"/>
<circle cx="949.9" cy="739.9" r="6.6"/>
<circle cx="959.3" cy="744.7" r="6.6"/>
<circle cx="968.8" cy="750.2" r="6.6"/>
<circle cx="978.2" cy="748.1" r="6.6"/>
<circle cx="987.7" cy="759.7" r="6.6"/>
<circle cx="997.2" cy="752.2" r="6.6"/>
<circle cx="1006.6" cy="746.7" r="6.6"/>
<circle cx="1016.1" cy="634.1" r="6.6"/>
<circle cx="1025.6" cy="757.7" r="6.6"/>
<circle cx="1035" cy="746.1" r="6.6"/>
<circle cx="1044.5" cy="744.7" r="6.6"/>
<circle cx="1054" cy="768" r="6.6"/>
<circle cx="1063.4" cy="752.2" r="6.6"/>
<circle cx="1072.9" cy="750.8" r="6.6"/>
<circle cx="1082.3" cy="747.4" r="6.6"/>
<circle cx="1091.8" cy="734.4" r="6.6"/>
<circle cx="1101.3" cy="746.1" r="6.6"/>
<circle cx="1110.7" cy="739.2" r="6.6"/>
<circle cx="1120.2" cy="746.4" r="6.6"/>
<circle cx="1129.7" cy="633.1" r="6.6"/>
<circle cx="1139.1" cy="739.9" r="6.6"/>
<circle cx="1148.6" cy="736.5" r="6.6"/>
<circle cx="1158" cy="735.8" r="6.6"/>
<circle cx="1167.5" cy="731.7" r="6.6"/>
<circle cx="1177" cy="744" r="6.6"/>
<circle cx="1186.4" cy="729.6" r="6.6"/>
<circle cx="1195.9" cy="726.2" r="6.6"/>
<circle cx="1205.3" cy="713.9" r="6.6"/>
<circle cx="1214.8" cy="726.2" r="6.6"/>
<circle cx="1224.3" cy="723.5" r="6.6"/>
<circle cx="1233.7" cy="720" r="6.6"/>
<circle cx="1243.2" cy="723.5" r="6.6"/>
<circle cx="1252.7" cy="716.6" r="6.6"/>
<circle cx="1262.1" cy="716.6" r="6.6"/>
<circle cx="1271.6" cy="713.2" r="6.6"/>
<circle cx="1281" cy="705" r="6.6"/>
<circle cx="1290.5" cy="708.4" r="6.6"/>
<circle cx="1300" cy="698.8" r="6.6"/>
<circle cx="1309.4" cy="695.4" r="6.6"/>
<circle cx="1318.9" cy="686.4" r="6.6"/>
<circle cx="1328.4" cy="687.5" r="6.6"/>
<circle cx="1337.8" cy="680.1" r="6.6"/>
<circle cx="1347.3" cy="686.1" r="6.6"/>
<circle cx="1356.8" cy="650.2" r="6.6"/>
<circle cx="1366.2" cy="598.9" r="6.6"/>
<circle cx="1375.7" cy="644.5" r="6.6"/>
<circle cx="1385.1" cy="667.4" r="6.6"/>
<circle cx="1394.6" cy="673.9" r="6.6"/>
<circle cx="1404.1" cy="678.2" r="6.6"/>
<circle cx="1413.5" cy="683.9" r="6.6"/>
<circle cx="1423" cy="689" r="6.6"/>
<circle cx="1432.5" cy="697.6" r="6.6"/>
<circle cx="1441.9" cy="700.4" r="6.6"/>
<circle cx="1451.4" cy="704" r="6.6"/>
<circle cx="1460.8" cy="708.3" r="6.6"/>
<circle cx="1470.3" cy="710.5" r="6.6"/>
<circle cx="1479.8" cy="714.8" r="6.6"/>
<circle cx="1489.2" cy="713.3" r="6.6"/>
<circle cx="1498.7" cy="718.4" r="6.6"/>
<circle cx="1508.2" cy="718.8" r="6.6"/>
</g></g>
<g stroke="#000" stroke-width="6.4" fill="none">
<path d="M921.2 878.7V1084.8"/>
<path d="M918 1081.6H1514.8"/>
<path d="M921.2 878.7H1514.8"/>
<path d="M1514.8 878.7V1081.6"/>
<path d="M940.3 1081.6V1058.1"/>
<path d="M959.1 1081.6V1068.3"/>
<path d="M977.9 1081.6V1068.3"/>
<path d="M996.7 1081.6V1068.3"/>
<path d="M1015.4 1081.6V1068.3"/>
<path d="M1034.2 1081.6V1068.3"/>
<path d="M1053 1081.6V1068.3"/>
<path d="M1071.8 1081.6V1068.3"/>
<path d="M1090.6 1081.6V1058.1"/>
<path d="M1109.4 1081.6V1068.3"/>
<path d="M1128.2 1081.6V1068.3"/>
<path d="M1147 1081.6V1068.3"/>
<path d="M1165.8 1081.6V1068.3"/>
<path d="M1184.5 1081.6V1068.3"/>
<path d="M1203.3 1081.6V1068.3"/>
<path d="M1222.1 1081.6V1068.3"/>
<path d="M1240.9 1081.6V1058.1"/>
<path d="M1259.7 1081.6V1068.3"/>
<path d="M1278.5 1081.6V1068.3"/>
<path d="M1297.3 1081.6V1068.3"/>
<path d="M1316 1081.6V1068.3"/>
<path d="M1334.8 1081.6V1068.3"/>
<path d="M1353.6 1081.6V1068.3"/>
<path d="M1372.4 1081.6V1068.3"/>
<path d="M1391.2 1081.6V1058.1"/>
<path d="M1410 1081.6V1068.3"/>
<path d="M1428.8 1081.6V1068.3"/>
<path d="M1447.6 1081.6V1068.3"/>
<path d="M1466.3 1081.6V1068.3"/>
<path d="M1485.1 1081.6V1068.3"/>
<path d="M1503.9 1081.6V1068.3"/>
<path d="M921.2 891.2H944.7"/>
<path d="M921.2 961.7H944.7"/>
<path d="M921.2 1032.1H944.7"/>
</g>
<g font-family="'Liberation Serif', 'Times New Roman', serif" font-size="39.6" fill="#000">
<text x="940.3" y="1133.8" text-anchor="middle">0.0</text>
<text x="1090.6" y="1133.8" text-anchor="middle">0.4</text>
<text x="1240.9" y="1133.8" text-anchor="middle">0.8</text>
<text x="1391.2" y="1133.8" text-anchor="middle">1.2</text>
<text x="838" y="910.5">10<tspan dy="-23.8" font-size="27.5">-4</tspan></text>
<text x="838" y="981">10<tspan dy="-23.8" font-size="27.5">-5</tspan></text>
<text x="838" y="1051.4">10<tspan dy="-23.8" font-size="27.5">-6</tspan></text>
<text x="1185.6" y="920.6">50 ppm</text>
<text x="1445.4" y="913.3">6b</text>
</g>
<clipPath id="c8"><rect x="921.2" y="878.7" width="593.6" height="204.4"/></clipPath>
<g clip-path="url(#c8)">
<polyline fill="none" stroke="#0000FF" stroke-width="4.7" stroke-linejoin="round" points="940.3,997 949.7,1046.6 959.1,1056.3 968.5,1061 977.9,1057.9 987.3,1064.2 996.7,1068.9 1006.1,1069.2 1015.4,917 1024.8,1066.5 1034.2,1066.9 1043.6,1076.4 1053,1022.5 1062.4,1067.5 1071.8,1049.8 1081.2,1051.4 1090.6,1107 1100,1083.5 1109.4,1073.4 1118.8,1044.3 1128.2,915.9 1137.6,1052.5 1147,1062.8 1156.4,1050.4 1165.8,1053.2 1175.1,1055.9 1184.5,1051.8 1193.9,1042.9 1203.3,1068.2 1212.7,1053.2 1222.1,1040.8 1231.5,1037.4 1240.9,1025.8 1250.3,1032 1259.7,1034.5 1269.1,1026 1278.5,1029.5 1287.9,1032 1297.3,1024.8 1306.7,1018 1316,1012.7 1325.4,1012 1334.8,1004.8 1344.2,1004.8 1353.6,991.3 1363,994.8 1372.4,972.5 1381.8,955.3 1391.2,917.3 1400.6,906.5 1410,923 1419.4,949.6 1428.8,985.4 1438.2,983.3 1447.6,991.1 1457,994 1466.3,1002.6 1475.7,1004.8 1485.1,1006.2 1494.5,1009.1 1503.9,1011.9"/>
<g fill="#0000FF">
<rect x="933.8" y="990.5" width="13" height="13"/>
<rect x="943.2" y="1040.1" width="13" height="13"/>
<rect x="952.6" y="1049.8" width="13" height="13"/>
<rect x="962" y="1054.5" width="13" height="13"/>
<rect x="971.4" y="1051.4" width="13" height="13"/>
<rect x="980.8" y="1057.7" width="13" height="13"/>
<rect x="990.2" y="1062.4" width="13" height="13"/>
<rect x="999.6" y="1062.7" width="13" height="13"/>
<rect x="1008.9" y="910.5" width="13" height="13"/>
<rect x="1018.3" y="1060" width="13" height="13"/>
<rect x="1027.7" y="1060.4" width="13" height="13"/>
<rect x="1037.1" y="1069.9" width="13" height="13"/>
<rect x="1046.5" y="1016" width="13" height="13"/>
<rect x="1055.9" y="1061" width="13" height="13"/>
<rect x="1065.3" y="1043.3" width="13" height="13"/>
<rect x="1074.7" y="1044.9" width="13" height="13"/>
<rect x="1102.9" y="1066.9" width="13" height="13"/>
<rect x="1112.3" y="1037.8" width="13" height="13"/>
<rect x="1121.7" y="909.4" width="13" height="13"/>
<rect x="1131.1" y="1046" width="13" height="13"/>
<rect x="1140.5" y="1056.3" width="13" height="13"/>
<rect x="1149.9" y="1043.9" width="13" height="13"/>
<rect x="1159.2" y="1046.7" width="13" height="13"/>
<rect x="1168.6" y="1049.4" width="13" height="13"/>
<rect x="1178" y="1045.3" width="13" height="13"/>
<rect x="1187.4" y="1036.4" width="13" height="13"/>
<rect x="1196.8" y="1061.7" width="13" height="13"/>
<rect x="1206.2" y="1046.7" width="13" height="13"/>
<rect x="1215.6" y="1034.3" width="13" height="13"/>
<rect x="1225" y="1030.9" width="13" height="13"/>
<rect x="1234.4" y="1019.3" width="13" height="13"/>
<rect x="1243.8" y="1025.5" width="13" height="13"/>
<rect x="1253.2" y="1028" width="13" height="13"/>
<rect x="1262.6" y="1019.5" width="13" height="13"/>
<rect x="1272" y="1023" width="13" height="13"/>
<rect x="1281.4" y="1025.5" width="13" height="13"/>
<rect x="1290.8" y="1018.3" width="13" height="13"/>
<rect x="1300.2" y="1011.5" width="13" height="13"/>
<rect x="1309.5" y="1006.2" width="13" height="13"/>
<rect x="1318.9" y="1005.5" width="13" height="13"/>
<rect x="1328.3" y="998.3" width="13" height="13"/>
<rect x="1337.7" y="998.3" width="13" height="13"/>
<rect x="1347.1" y="984.8" width="13" height="13"/>
<rect x="1356.5" y="988.3" width="13" height="13"/>
<rect x="1365.9" y="966" width="13" height="13"/>
<rect x="1375.3" y="948.8" width="13" height="13"/>
<rect x="1384.7" y="910.8" width="13" height="13"/>
<rect x="1394.1" y="900" width="13" height="13"/>
<rect x="1403.5" y="916.5" width="13" height="13"/>
<rect x="1412.9" y="943.1" width="13" height="13"/>
<rect x="1422.3" y="978.9" width="13" height="13"/>
<rect x="1431.7" y="976.8" width="13" height="13"/>
<rect x="1441.1" y="984.6" width="13" height="13"/>
<rect x="1450.5" y="987.5" width="13" height="13"/>
<rect x="1459.8" y="996.1" width="13" height="13"/>
<rect x="1469.2" y="998.3" width="13" height="13"/>
<rect x="1478.6" y="999.7" width="13" height="13"/>
<rect x="1488" y="1002.6" width="13" height="13"/>
<rect x="1497.4" y="1005.4" width="13" height="13"/>
</g></g>
<g stroke="#000" stroke-width="6.4" fill="none">
<path d="M916.1 1171.2V1376.7"/>
<path d="M912.9 1373.5H1509.7"/>
<path d="M916.1 1171.2H1509.7"/>
<path d="M1509.7 1171.2V1373.5"/>
<path d="M935.5 1373.5V1350"/>
<path d="M954.3 1373.5V1360.2"/>
<path d="M973 1373.5V1360.2"/>
<path d="M991.8 1373.5V1360.2"/>
<path d="M1010.5 1373.5V1360.2"/>
<path d="M1029.3 1373.5V1360.2"/>
<path d="M1048.1 1373.5V1360.2"/>
<path d="M1066.8 1373.5V1360.2"/>
<path d="M1085.6 1373.5V1350"/>
<path d="M1104.3 1373.5V1360.2"/>
<path d="M1123.1 1373.5V1360.2"/>
<path d="M1141.9 1373.5V1360.2"/>
<path d="M1160.6 1373.5V1360.2"/>
<path d="M1179.4 1373.5V1360.2"/>
<path d="M1198.1 1373.5V1360.2"/>
<path d="M1216.9 1373.5V1360.2"/>
<path d="M1235.7 1373.5V1350"/>
<path d="M1254.4 1373.5V1360.2"/>
<path d="M1273.2 1373.5V1360.2"/>
<path d="M1291.9 1373.5V1360.2"/>
<path d="M1310.7 1373.5V1360.2"/>
<path d="M1329.5 1373.5V1360.2"/>
<path d="M1348.2 1373.5V1360.2"/>
<path d="M1367 1373.5V1360.2"/>
<path d="M1385.7 1373.5V1350"/>
<path d="M1404.5 1373.5V1360.2"/>
<path d="M1423.3 1373.5V1360.2"/>
<path d="M1442 1373.5V1360.2"/>
<path d="M1460.8 1373.5V1360.2"/>
<path d="M1479.5 1373.5V1360.2"/>
<path d="M1498.3 1373.5V1360.2"/>
<path d="M916.1 1178H939.6"/>
<path d="M916.1 1220.6H939.6"/>
<path d="M916.1 1263.2H939.6"/>
<path d="M916.1 1305.8H939.6"/>
<path d="M916.1 1348.4H939.6"/>
</g>
<g font-family="'Liberation Serif', 'Times New Roman', serif" font-size="39.6" fill="#000">
<text x="935.5" y="1425.7" text-anchor="middle">0.0</text>
<text x="1085.6" y="1425.7" text-anchor="middle">0.4</text>
<text x="1235.7" y="1425.7" text-anchor="middle">0.8</text>
<text x="1385.7" y="1425.7" text-anchor="middle">1.2</text>
<text x="832.9" y="1197.3">10<tspan dy="-23.8" font-size="27.5">-3</tspan></text>
<text x="832.9" y="1282.5">10<tspan dy="-23.8" font-size="27.5">-5</tspan></text>
<text x="832.9" y="1367.7">10<tspan dy="-23.8" font-size="27.5">-7</tspan></text>
<text x="1221.1" y="1209.8">Balnk</text>
<text x="1436.7" y="1214.3">6b</text>
</g>
<clipPath id="c9"><rect x="916.1" y="1171.2" width="593.6" height="203.8"/></clipPath>
<g clip-path="url(#c9)">
<polyline fill="none" stroke="#000000" stroke-width="4.4" stroke-linejoin="round" points="935.5,1220 938.6,1298.9 941.8,1265 944.9,1312 948,1269.6 951.1,1297.2 954.3,1283.7 957.4,1301.2 960.5,1285.1 963.6,1303.2 966.8,1285 969.9,1330 973,1252 976.1,1306.9 979.3,1315 982.4,1301.9 985.5,1283.6 988.7,1301.8 991.8,1280.7 994.9,1304 998,1281.9 1001.2,1276 1004.3,1268 1007.4,1296 1010.5,1183 1013.7,1296 1016.8,1268 1019.9,1276 1023,1284.9 1026.2,1300.9 1029.3,1289.4 1032.4,1312.4 1035.6,1332 1038.7,1321 1041.8,1307.1 1044.9,1326.6 1048.1,1238 1051.2,1327.7 1054.3,1307 1057.4,1329 1060.6,1354 1063.7,1331.9 1066.8,1308.9 1069.9,1333.9 1073.1,1307 1076.2,1332.9 1079.3,1305.2 1082.5,1327.7 1085.6,1252 1088.7,1322.7 1091.8,1305.9 1095,1324 1098.1,1299.3 1101.2,1317.1 1104.3,1292.7 1107.5,1311.4 1110.6,1285.8 1113.7,1276 1116.8,1268 1120,1296 1123.1,1182 1126.2,1296 1129.4,1268 1132.5,1276 1135.6,1282 1138.7,1294.7 1141.9,1291.6 1145,1306.5 1148.1,1299.3 1151.2,1314.8 1154.4,1308.9 1157.5,1324.5 1160.6,1275 1163.7,1328 1166.9,1320.3 1170,1337 1173.1,1324 1176.3,1331.6 1179.4,1314.9 1182.5,1329.8 1185.6,1309.1 1188.8,1328.9 1191.9,1317.6 1195,1334.5 1198.1,1240 1201.3,1341.7 1204.4,1320.1 1207.5,1336.4 1210.6,1356 1213.8,1331.7 1216.9,1317.6 1220,1332.8 1223.2,1306.9 1226.3,1332.6 1229.4,1310.2 1232.5,1330.5 1235.7,1254 1238.8,1336.9 1241.9,1313.5 1245,1335.9 1248.2,1316.9 1251.3,1331.7 1254.4,1366 1257.5,1333 1260.7,1315.7 1263.8,1327.3 1266.9,1317.7 1270.1,1331.1 1273.2,1255 1276.3,1339.5 1279.4,1323.2 1282.6,1335.4 1285.7,1321.5 1288.8,1335.9 1291.9,1318.2 1295.1,1339.4 1298.2,1323.5 1301.3,1335.3 1304.4,1346 1307.6,1337.9 1310.7,1253 1313.8,1336 1317,1297.1 1320.1,1301.7 1323.2,1285 1326.3,1286.4 1329.5,1273.6 1332.6,1276.8 1335.7,1266.8 1338.8,1271.7 1342,1259.1 1345.1,1269.9 1348.2,1271.6 1351.3,1300.1 1354.5,1346 1357.6,1315.8 1360.7,1295.6 1363.9,1314.7 1367,1295.8 1370.1,1322.7 1373.2,1299.8 1376.4,1342 1379.5,1305.7 1382.6,1323.8 1385.7,1255 1388.9,1332.5 1392,1317.5 1395.1,1336.3 1398.2,1318.1 1401.4,1338.7 1404.5,1319.6 1407.6,1335.3 1410.8,1317.9 1413.9,1343.5 1417,1316 1420.1,1357 1423.3,1321.7 1426.4,1342.5 1429.5,1322.5 1432.6,1342.3 1435.8,1321.4 1438.9,1347 1442,1320.9 1445.1,1346.3 1448.3,1321.5 1451.4,1342 1454.5,1325.8 1457.7,1340.3 1460.8,1326.1 1463.9,1341 1467,1327.3 1470.2,1344.4 1473.3,1351 1476.4,1344.9 1479.5,1328.6 1482.7,1345.6 1485.8,1327.1 1488.9,1353 1492,1323.7 1495.2,1349.4 1498.3,1275 1501.4,1345.1 1504.6,1327.4 1507.7,1343.9"/>
<g stroke="#000" stroke-width="1.45" fill="none">
<path d="M928.9 1220H942.1M935.5 1213.4V1226.6M930.8 1215.3L940.2 1224.7M930.8 1224.7L940.2 1215.3"/>
<path d="M932 1298.9H945.2M938.6 1292.3V1305.5M934 1294.3L943.3 1303.6M934 1303.6L943.3 1294.3"/>
<path d="M935.2 1265H948.4M941.8 1258.4V1271.6M937.1 1260.3L946.4 1269.7M937.1 1269.7L946.4 1260.3"/>
<path d="M938.3 1312H951.5M944.9 1305.4V1318.6M940.2 1307.3L949.5 1316.7M940.2 1316.7L949.5 1307.3"/>
<path d="M941.4 1269.6H954.6M948 1263V1276.2M943.3 1264.9L952.7 1274.3M943.3 1274.3L952.7 1264.9"/>
<path d="M944.5 1297.2H957.7M951.1 1290.6V1303.8M946.5 1292.5L955.8 1301.8M946.5 1301.8L955.8 1292.5"/>
<path d="M947.7 1283.7H960.9M954.3 1277.1V1290.3M949.6 1279.1L958.9 1288.4M949.6 1288.4L958.9 1279.1"/>
<path d="M950.8 1301.2H964M957.4 1294.6V1307.8M952.7 1296.6L962.1 1305.9M952.7 1305.9L962.1 1296.6"/>
<path d="M953.9 1285.1H967.1M960.5 1278.5V1291.7M955.8 1280.4L965.2 1289.7M955.8 1289.7L965.2 1280.4"/>
<path d="M957 1303.2H970.2M963.6 1296.6V1309.8M959 1298.6L968.3 1307.9M959 1307.9L968.3 1298.6"/>
<path d="M960.2 1285H973.4M966.8 1278.4V1291.6M962.1 1280.3L971.4 1289.7M962.1 1289.7L971.4 1280.3"/>
<path d="M963.3 1330H976.5M969.9 1323.4V1336.6M965.2 1325.3L974.6 1334.7M965.2 1334.7L974.6 1325.3"/>
<path d="M966.4 1252H979.6M973 1245.4V1258.6M968.4 1247.3L977.7 1256.7M968.4 1256.7L977.7 1247.3"/>
<path d="M969.5 1306.9H982.7M976.1 1300.3V1313.5M971.5 1302.2L980.8 1311.6M971.5 1311.6L980.8 1302.2"/>
<path d="M972.7 1315H985.9M979.3 1308.4V1321.6M974.6 1310.3L983.9 1319.7M974.6 1319.7L983.9 1310.3"/>
<path d="M975.8 1301.9H989M982.4 1295.3V1308.5M977.7 1297.2L987.1 1306.5M977.7 1306.5L987.1 1297.2"/>
<path d="M978.9 1283.6H992.1M985.5 1277V1290.2M980.9 1278.9L990.2 1288.2M980.9 1288.2L990.2 1278.9"/>
<path d="M982.1 1301.8H995.3M988.7 1295.2V1308.4M984 1297.1L993.3 1306.4M984 1306.4L993.3 1297.1"/>
<path d="M985.2 1280.7H998.4M991.8 1274.1V1287.3M987.1 1276L996.4 1285.3M987.1 1285.3L996.4 1276"/>
<path d="M988.3 1304H1001.5M994.9 1297.4V1310.6M990.2 1299.3L999.6 1308.6M990.2 1308.6L999.6 1299.3"/>
<path d="M991.4 1281.9H1004.6M998 1275.3V1288.5M993.4 1277.3L1002.7 1286.6M993.4 1286.6L1002.7 1277.3"/>
<path d="M994.6 1276H1007.8M1001.2 1269.4V1282.6M996.5 1271.3L1005.8 1280.7M996.5 1280.7L1005.8 1271.3"/>
<path d="M997.7 1268H1010.9M1004.3 1261.4V1274.6M999.6 1263.3L1009 1272.7M999.6 1272.7L1009 1263.3"/>
<path d="M1000.8 1296H1014M1007.4 1289.4V1302.6M1002.7 1291.3L1012.1 1300.7M1002.7 1300.7L1012.1 1291.3"/>
<path d="M1003.9 1183H1017.1M1010.5 1176.4V1189.6M1005.9 1178.3L1015.2 1187.7M1005.9 1187.7L1015.2 1178.3"/>
<path d="M1007.1 1296H1020.3M1013.7 1289.4V1302.6M1009 1291.3L1018.3 1300.7M1009 1300.7L1018.3 1291.3"/>
<path d="M1010.2 1268H1023.4M1016.8 1261.4V1274.6M1012.1 1263.3L1021.5 1272.7M1012.1 1272.7L1021.5 1263.3"/>
<path d="M1013.3 1276H1026.5M1019.9 1269.4V1282.6M1015.3 1271.3L1024.6 1280.7M1015.3 1280.7L1024.6 1271.3"/>
<path d="M1016.4 1284.9H1029.6M1023 1278.3V1291.5M1018.4 1280.3L1027.7 1289.6M1018.4 1289.6L1027.7 1280.3"/>
<path d="M1019.6 1300.9H1032.8M1026.2 1294.3V1307.5M1021.5 1296.2L1030.8 1305.6M1021.5 1305.6L1030.8 1296.2"/>
<path d="M1022.7 1289.4H1035.9M1029.3 1282.8V1296M1024.6 1284.8L1034 1294.1M1024.6 1294.1L1034 1284.8"/>
<path d="M1025.8 1312.4H1039M1032.4 1305.8V1319M1027.8 1307.7L1037.1 1317.1M1027.8 1317.1L1037.1 1307.7"/>
<path d="M1029 1332H1042.2M1035.6 1325.4V1338.6M1030.9 1327.3L1040.2 1336.7M1030.9 1336.7L1040.2 1327.3"/>
<path d="M1032.1 1321H1045.3M1038.7 1314.4V1327.6M1034 1316.4L1043.3 1325.7M1034 1325.7L1043.3 1316.4"/>
<path d="M1035.2 1307.1H1048.4M1041.8 1300.5V1313.7M1037.1 1302.4L1046.5 1311.7M1037.1 1311.7L1046.5 1302.4"/>
<path d="M1038.3 1326.6H1051.5M1044.9 1320V1333.2M1040.3 1322L1049.6 1331.3M1040.3 1331.3L1049.6 1322"/>
<path d="M1041.5 1238H1054.7M1048.1 1231.4V1244.6M1043.4 1233.3L1052.7 1242.7M1043.4 1242.7L1052.7 1233.3"/>
<path d="M1044.6 1327.7H1057.8M1051.2 1321.1V1334.3M1046.5 1323.1L1055.9 1332.4M1046.5 1332.4L1055.9 1323.1"/>
<path d="M1047.7 1307H1060.9M1054.3 1300.4V1313.6M1049.6 1302.3L1059 1311.6M1049.6 1311.6L1059 1302.3"/>
<path d="M1050.8 1329H1064M1057.4 1322.4V1335.6M1052.8 1324.4L1062.1 1333.7M1052.8 1333.7L1062.1 1324.4"/>
<path d="M1054 1354H1067.2M1060.6 1347.4V1360.6M1055.9 1349.3L1065.2 1358.7M1055.9 1358.7L1065.2 1349.3"/>
<path d="M1057.1 1331.9H1070.3M1063.7 1325.3V1338.5M1059 1327.2L1068.4 1336.5M1059 1336.5L1068.4 1327.2"/>
<path d="M1060.2 1308.9H1073.4M1066.8 1302.3V1315.5M1062.2 1304.2L1071.5 1313.6M1062.2 1313.6L1071.5 1304.2"/>
<path d="M1063.3 1333.9H1076.5M1069.9 1327.3V1340.5M1065.3 1329.3L1074.6 1338.6M1065.3 1338.6L1074.6 1329.3"/>
<path d="M1066.5 1307H1079.7M1073.1 1300.4V1313.6M1068.4 1302.4L1077.7 1311.7M1068.4 1311.7L1077.7 1302.4"/>
<path d="M1069.6 1332.9H1082.8M1076.2 1326.3V1339.5M1071.5 1328.3L1080.9 1337.6M1071.5 1337.6L1080.9 1328.3"/>
<path d="M1072.7 1305.2H1085.9M1079.3 1298.6V1311.8M1074.7 1300.5L1084 1309.8M1074.7 1309.8L1084 1300.5"/>
<path d="M1075.9 1327.7H1089.1M1082.5 1321.1V1334.3M1077.8 1323L1087.1 1332.4M1077.8 1332.4L1087.1 1323"/>
<path d="M1079 1252H1092.2M1085.6 1245.4V1258.6M1080.9 1247.3L1090.2 1256.7M1080.9 1256.7L1090.2 1247.3"/>
<path d="M1082.1 1322.7H1095.3M1088.7 1316.1V1329.3M1084 1318L1093.4 1327.3M1084 1327.3L1093.4 1318"/>
<path d="M1085.2 1305.9H1098.4M1091.8 1299.3V1312.5M1087.2 1301.2L1096.5 1310.5M1087.2 1310.5L1096.5 1301.2"/>
<path d="M1088.4 1324H1101.6M1095 1317.4V1330.6M1090.3 1319.4L1099.6 1328.7M1090.3 1328.7L1099.6 1319.4"/>
<path d="M1091.5 1299.3H1104.7M1098.1 1292.7V1305.9M1093.4 1294.6L1102.8 1303.9M1093.4 1303.9L1102.8 1294.6"/>
<path d="M1094.6 1317.1H1107.8M1101.2 1310.5V1323.7M1096.5 1312.4L1105.9 1321.7M1096.5 1321.7L1105.9 1312.4"/>
<path d="M1097.7 1292.7H1110.9M1104.3 1286.1V1299.3M1099.7 1288.1L1109 1297.4M1099.7 1297.4L1109 1288.1"/>
<path d="M1100.9 1311.4H1114.1M1107.5 1304.8V1318M1102.8 1306.8L1112.1 1316.1M1102.8 1316.1L1112.1 1306.8"/>
<path d="M1104 1285.8H1117.2M1110.6 1279.2V1292.4M1105.9 1281.1L1115.3 1290.4M1105.9 1290.4L1115.3 1281.1"/>
<path d="M1107.1 1276H1120.3M1113.7 1269.4V1282.6M1109.1 1271.3L1118.4 1280.7M1109.1 1280.7L1118.4 1271.3"/>
<path d="M1110.2 1268H1123.4M1116.8 1261.4V1274.6M1112.2 1263.3L1121.5 1272.7M1112.2 1272.7L1121.5 1263.3"/>
<path d="M1113.4 1296H1126.6M1120 1289.4V1302.6M1115.3 1291.3L1124.6 1300.7M1115.3 1300.7L1124.6 1291.3"/>
<path d="M1116.5 1182H1129.7M1123.1 1175.4V1188.6M1118.4 1177.3L1127.8 1186.7M1118.4 1186.7L1127.8 1177.3"/>
<path d="M1119.6 1296H1132.8M1126.2 1289.4V1302.6M1121.6 1291.3L1130.9 1300.7M1121.6 1300.7L1130.9 1291.3"/>
<path d="M1122.8 1268H1136M1129.4 1261.4V1274.6M1124.7 1263.3L1134 1272.7M1124.7 1272.7L1134 1263.3"/>
<path d="M1125.9 1276H1139.1M1132.5 1269.4V1282.6M1127.8 1271.3L1137.1 1280.7M1127.8 1280.7L1137.1 1271.3"/>
<path d="M1129 1282H1142.2M1135.6 1275.4V1288.6M1130.9 1277.3L1140.3 1286.6M1130.9 1286.6L1140.3 1277.3"/>
<path d="M1132.1 1294.7H1145.3M1138.7 1288.1V1301.3M1134.1 1290L1143.4 1299.3M1134.1 1299.3L1143.4 1290"/>
<path d="M1135.3 1291.6H1148.5M1141.9 1285V1298.2M1137.2 1286.9L1146.5 1296.3M1137.2 1296.3L1146.5 1286.9"/>
<path d="M1138.4 1306.5H1151.6M1145 1299.9V1313.1M1140.3 1301.8L1149.7 1311.1M1140.3 1311.1L1149.7 1301.8"/>
<path d="M1141.5 1299.3H1154.7M1148.1 1292.7V1305.9M1143.4 1294.7L1152.8 1304M1143.4 1304L1152.8 1294.7"/>
<path d="M1144.6 1314.8H1157.8M1151.2 1308.2V1321.4M1146.6 1310.2L1155.9 1319.5M1146.6 1319.5L1155.9 1310.2"/>
<path d="M1147.8 1308.9H1161M1154.4 1302.3V1315.5M1149.7 1304.3L1159 1313.6M1149.7 1313.6L1159 1304.3"/>
<path d="M1150.9 1324.5H1164.1M1157.5 1317.9V1331.1M1152.8 1319.8L1162.2 1329.1M1152.8 1329.1L1162.2 1319.8"/>
<path d="M1154 1275H1167.2M1160.6 1268.4V1281.6M1156 1270.3L1165.3 1279.7M1156 1279.7L1165.3 1270.3"/>
<path d="M1157.1 1328H1170.3M1163.7 1321.4V1334.6M1159.1 1323.3L1168.4 1332.6M1159.1 1332.6L1168.4 1323.3"/>
<path d="M1160.3 1320.3H1173.5M1166.9 1313.7V1326.9M1162.2 1315.7L1171.5 1325M1162.2 1325L1171.5 1315.7"/>
<path d="M1163.4 1337H1176.6M1170 1330.4V1343.6M1165.3 1332.3L1174.7 1341.7M1165.3 1341.7L1174.7 1332.3"/>
<path d="M1166.5 1324H1179.7M1173.1 1317.4V1330.6M1168.5 1319.4L1177.8 1328.7M1168.5 1328.7L1177.8 1319.4"/>
<path d="M1169.7 1331.6H1182.9M1176.3 1325V1338.2M1171.6 1327L1180.9 1336.3M1171.6 1336.3L1180.9 1327"/>
<path d="M1172.8 1314.9H1186M1179.4 1308.3V1321.5M1174.7 1310.2L1184 1319.5M1174.7 1319.5L1184 1310.2"/>
<path d="M1175.9 1329.8H1189.1M1182.5 1323.2V1336.4M1177.8 1325.2L1187.2 1334.5M1177.8 1334.5L1187.2 1325.2"/>
<path d="M1179 1309.1H1192.2M1185.6 1302.5V1315.7M1181 1304.4L1190.3 1313.8M1181 1313.8L1190.3 1304.4"/>
<path d="M1182.2 1328.9H1195.4M1188.8 1322.3V1335.5M1184.1 1324.2L1193.4 1333.6M1184.1 1333.6L1193.4 1324.2"/>
<path d="M1185.3 1317.6H1198.5M1191.9 1311V1324.2M1187.2 1312.9L1196.6 1322.2M1187.2 1322.2L1196.6 1312.9"/>
<path d="M1188.4 1334.5H1201.6M1195 1327.9V1341.1M1190.3 1329.8L1199.7 1339.2M1190.3 1339.2L1199.7 1329.8"/>
<path d="M1191.5 1240H1204.7M1198.1 1233.4V1246.6M1193.5 1235.3L1202.8 1244.7M1193.5 1244.7L1202.8 1235.3"/>
<path d="M1194.7 1341.7H1207.9M1201.3 1335.1V1348.3M1196.6 1337.1L1205.9 1346.4M1196.6 1346.4L1205.9 1337.1"/>
<path d="M1197.8 1320.1H1211M1204.4 1313.5V1326.7M1199.7 1315.5L1209.1 1324.8M1199.7 1324.8L1209.1 1315.5"/>
<path d="M1200.9 1336.4H1214.1M1207.5 1329.8V1343M1202.9 1331.8L1212.2 1341.1M1202.9 1341.1L1212.2 1331.8"/>
<path d="M1204 1356H1217.2M1210.6 1349.4V1362.6M1206 1351.3L1215.3 1360.7M1206 1360.7L1215.3 1351.3"/>
<path d="M1207.2 1331.7H1220.4M1213.8 1325.1V1338.3M1209.1 1327.1L1218.4 1336.4M1209.1 1336.4L1218.4 1327.1"/>
<path d="M1210.3 1317.6H1223.5M1216.9 1311V1324.2M1212.2 1313L1221.6 1322.3M1212.2 1322.3L1221.6 1313"/>
<path d="M1213.4 1332.8H1226.6M1220 1326.2V1339.4M1215.4 1328.1L1224.7 1337.5M1215.4 1337.5L1224.7 1328.1"/>
<path d="M1216.6 1306.9H1229.8M1223.2 1300.3V1313.5M1218.5 1302.3L1227.8 1311.6M1218.5 1311.6L1227.8 1302.3"/>
<path d="M1219.7 1332.6H1232.9M1226.3 1326V1339.2M1221.6 1327.9L1230.9 1337.2M1221.6 1337.2L1230.9 1327.9"/>
<path d="M1222.8 1310.2H1236M1229.4 1303.6V1316.8M1224.7 1305.5L1234.1 1314.9M1224.7 1314.9L1234.1 1305.5"/>
<path d="M1225.9 1330.5H1239.1M1232.5 1323.9V1337.1M1227.9 1325.8L1237.2 1335.1M1227.9 1335.1L1237.2 1325.8"/>
<path d="M1229.1 1254H1242.3M1235.7 1247.4V1260.6M1231 1249.3L1240.3 1258.7M1231 1258.7L1240.3 1249.3"/>
<path d="M1232.2 1336.9H1245.4M1238.8 1330.3V1343.5M1234.1 1332.2L1243.5 1341.5M1234.1 1341.5L1243.5 1332.2"/>
<path d="M1235.3 1313.5H1248.5M1241.9 1306.9V1320.1M1237.2 1308.8L1246.6 1318.2M1237.2 1318.2L1246.6 1308.8"/>
<path d="M1238.4 1335.9H1251.6M1245 1329.3V1342.5M1240.4 1331.2L1249.7 1340.5M1240.4 1340.5L1249.7 1331.2"/>
<path d="M1241.6 1316.9H1254.8M1248.2 1310.3V1323.5M1243.5 1312.3L1252.8 1321.6M1243.5 1321.6L1252.8 1312.3"/>
<path d="M1244.7 1331.7H1257.9M1251.3 1325.1V1338.3M1246.6 1327.1L1256 1336.4M1246.6 1336.4L1256 1327.1"/>
<path d="M1247.8 1366H1261M1254.4 1359.4V1372.6M1249.8 1361.3L1259.1 1370.7M1249.8 1370.7L1259.1 1361.3"/>
<path d="M1250.9 1333H1264.1M1257.5 1326.4V1339.6M1252.9 1328.3L1262.2 1337.7M1252.9 1337.7L1262.2 1328.3"/>
<path d="M1254.1 1315.7H1267.3M1260.7 1309.1V1322.3M1256 1311L1265.3 1320.3M1256 1320.3L1265.3 1311"/>
<path d="M1257.2 1327.3H1270.4M1263.8 1320.7V1333.9M1259.1 1322.7L1268.5 1332M1259.1 1332L1268.5 1322.7"/>
<path d="M1260.3 1317.7H1273.5M1266.9 1311.1V1324.3M1262.3 1313.1L1271.6 1322.4M1262.3 1322.4L1271.6 1313.1"/>
<path d="M1263.5 1331.1H1276.7M1270.1 1324.5V1337.7M1265.4 1326.4L1274.7 1335.8M1265.4 1335.8L1274.7 1326.4"/>
<path d="M1266.6 1255H1279.8M1273.2 1248.4V1261.6M1268.5 1250.3L1277.8 1259.7M1268.5 1259.7L1277.8 1250.3"/>
<path d="M1269.7 1339.5H1282.9M1276.3 1332.9V1346.1M1271.6 1334.8L1281 1344.1M1271.6 1344.1L1281 1334.8"/>
<path d="M1272.8 1323.2H1286M1279.4 1316.6V1329.8M1274.8 1318.5L1284.1 1327.8M1274.8 1327.8L1284.1 1318.5"/>
<path d="M1276 1335.4H1289.2M1282.6 1328.8V1342M1277.9 1330.7L1287.2 1340M1277.9 1340L1287.2 1330.7"/>
<path d="M1279.1 1321.5H1292.3M1285.7 1314.9V1328.1M1281 1316.9L1290.4 1326.2M1281 1326.2L1290.4 1316.9"/>
<path d="M1282.2 1335.9H1295.4M1288.8 1329.3V1342.5M1284.1 1331.2L1293.5 1340.6M1284.1 1340.6L1293.5 1331.2"/>
<path d="M1285.3 1318.2H1298.5M1291.9 1311.6V1324.8M1287.3 1313.5L1296.6 1322.9M1287.3 1322.9L1296.6 1313.5"/>
<path d="M1288.5 1339.4H1301.7M1295.1 1332.8V1346M1290.4 1334.7L1299.7 1344M1290.4 1344L1299.7 1334.7"/>
<path d="M1291.6 1323.5H1304.8M1298.2 1316.9V1330.1M1293.5 1318.8L1302.9 1328.2M1293.5 1328.2L1302.9 1318.8"/>
<path d="M1294.7 1335.3H1307.9M1301.3 1328.7V1341.9M1296.7 1330.6L1306 1340M1296.7 1340L1306 1330.6"/>
<path d="M1297.8 1346H1311M1304.4 1339.4V1352.6M1299.8 1341.3L1309.1 1350.7M1299.8 1350.7L1309.1 1341.3"/>
<path d="M1301 1337.9H1314.2M1307.6 1331.3V1344.5M1302.9 1333.2L1312.2 1342.6M1302.9 1342.6L1312.2 1333.2"/>
<path d="M1304.1 1253H1317.3M1310.7 1246.4V1259.6M1306 1248.3L1315.4 1257.7M1306 1257.7L1315.4 1248.3"/>
<path d="M1307.2 1336H1320.4M1313.8 1329.4V1342.6M1309.2 1331.3L1318.5 1340.7M1309.2 1340.7L1318.5 1331.3"/>
<path d="M1310.4 1297.1H1323.6M1317 1290.5V1303.7M1312.3 1292.4L1321.6 1301.8M1312.3 1301.8L1321.6 1292.4"/>
<path d="M1313.5 1301.7H1326.7M1320.1 1295.1V1308.3M1315.4 1297.1L1324.7 1306.4M1315.4 1306.4L1324.7 1297.1"/>
<path d="M1316.6 1285H1329.8M1323.2 1278.4V1291.6M1318.5 1280.3L1327.9 1289.6M1318.5 1289.6L1327.9 1280.3"/>
<path d="M1319.7 1286.4H1332.9M1326.3 1279.8V1293M1321.7 1281.7L1331 1291.1M1321.7 1291.1L1331 1281.7"/>
<path d="M1322.9 1273.6H1336.1M1329.5 1267V1280.2M1324.8 1268.9L1334.1 1278.2M1324.8 1278.2L1334.1 1268.9"/>
<path d="M1326 1276.8H1339.2M1332.6 1270.2V1283.4M1327.9 1272.1L1337.3 1281.5M1327.9 1281.5L1337.3 1272.1"/>
<path d="M1329.1 1266.8H1342.3M1335.7 1260.2V1273.4M1331 1262.2L1340.4 1271.5M1331 1271.5L1340.4 1262.2"/>
<path d="M1332.2 1271.7H1345.4M1338.8 1265.1V1278.3M1334.2 1267L1343.5 1276.3M1334.2 1276.3L1343.5 1267"/>
<path d="M1335.4 1259.1H1348.6M1342 1252.5V1265.7M1337.3 1254.5L1346.6 1263.8M1337.3 1263.8L1346.6 1254.5"/>
<path d="M1338.5 1269.9H1351.7M1345.1 1263.3V1276.5M1340.4 1265.2L1349.8 1274.6M1340.4 1274.6L1349.8 1265.2"/>
<path d="M1341.6 1271.6H1354.8M1348.2 1265V1278.2M1343.6 1267L1352.9 1276.3M1343.6 1276.3L1352.9 1267"/>
<path d="M1344.7 1300.1H1357.9M1351.3 1293.5V1306.7M1346.7 1295.4L1356 1304.7M1346.7 1304.7L1356 1295.4"/>
<path d="M1347.9 1346H1361.1M1354.5 1339.4V1352.6M1349.8 1341.3L1359.1 1350.7M1349.8 1350.7L1359.1 1341.3"/>
<path d="M1351 1315.8H1364.2M1357.6 1309.2V1322.4M1352.9 1311.1L1362.3 1320.5M1352.9 1320.5L1362.3 1311.1"/>
<path d="M1354.1 1295.6H1367.3M1360.7 1289V1302.2M1356.1 1290.9L1365.4 1300.2M1356.1 1300.2L1365.4 1290.9"/>
<path d="M1357.3 1314.7H1370.5M1363.9 1308.1V1321.3M1359.2 1310.1L1368.5 1319.4M1359.2 1319.4L1368.5 1310.1"/>
<path d="M1360.4 1295.8H1373.6M1367 1289.2V1302.4M1362.3 1291.1L1371.6 1300.5M1362.3 1300.5L1371.6 1291.1"/>
<path d="M1363.5 1322.7H1376.7M1370.1 1316.1V1329.3M1365.4 1318L1374.8 1327.3M1365.4 1327.3L1374.8 1318"/>
<path d="M1366.6 1299.8H1379.8M1373.2 1293.2V1306.4M1368.6 1295.1L1377.9 1304.4M1368.6 1304.4L1377.9 1295.1"/>
<path d="M1369.8 1342H1383M1376.4 1335.4V1348.6M1371.7 1337.3L1381 1346.7M1371.7 1346.7L1381 1337.3"/>
<path d="M1372.9 1305.7H1386.1M1379.5 1299.1V1312.3M1374.8 1301.1L1384.2 1310.4M1374.8 1310.4L1384.2 1301.1"/>
<path d="M1376 1323.8H1389.2M1382.6 1317.2V1330.4M1377.9 1319.1L1387.3 1328.4M1377.9 1328.4L1387.3 1319.1"/>
<path d="M1379.1 1255H1392.3M1385.7 1248.4V1261.6M1381.1 1250.3L1390.4 1259.7M1381.1 1259.7L1390.4 1250.3"/>
<path d="M1382.3 1332.5H1395.5M1388.9 1325.9V1339.1M1384.2 1327.9L1393.5 1337.2M1384.2 1337.2L1393.5 1327.9"/>
<path d="M1385.4 1317.5H1398.6M1392 1310.9V1324.1M1387.3 1312.8L1396.7 1322.2M1387.3 1322.2L1396.7 1312.8"/>
<path d="M1388.5 1336.3H1401.7M1395.1 1329.7V1342.9M1390.5 1331.6L1399.8 1341M1390.5 1341L1399.8 1331.6"/>
<path d="M1391.6 1318.1H1404.8M1398.2 1311.5V1324.7M1393.6 1313.5L1402.9 1322.8M1393.6 1322.8L1402.9 1313.5"/>
<path d="M1394.8 1338.7H1408M1401.4 1332.1V1345.3M1396.7 1334L1406 1343.4M1396.7 1343.4L1406 1334"/>
<path d="M1397.9 1319.6H1411.1M1404.5 1313V1326.2M1399.8 1315L1409.2 1324.3M1399.8 1324.3L1409.2 1315"/>
<path d="M1401 1335.3H1414.2M1407.6 1328.7V1341.9M1403 1330.6L1412.3 1340M1403 1340L1412.3 1330.6"/>
<path d="M1404.2 1317.9H1417.4M1410.8 1311.3V1324.5M1406.1 1313.3L1415.4 1322.6M1406.1 1322.6L1415.4 1313.3"/>
<path d="M1407.3 1343.5H1420.5M1413.9 1336.9V1350.1M1409.2 1338.8L1418.5 1348.2M1409.2 1348.2L1418.5 1338.8"/>
<path d="M1410.4 1316H1423.6M1417 1309.4V1322.6M1412.3 1311.3L1421.7 1320.6M1412.3 1320.6L1421.7 1311.3"/>
<path d="M1413.5 1357H1426.7M1420.1 1350.4V1363.6M1415.5 1352.3L1424.8 1361.7M1415.5 1361.7L1424.8 1352.3"/>
<path d="M1416.7 1321.7H1429.9M1423.3 1315.1V1328.3M1418.6 1317.1L1427.9 1326.4M1418.6 1326.4L1427.9 1317.1"/>
<path d="M1419.8 1342.5H1433M1426.4 1335.9V1349.1M1421.7 1337.8L1431.1 1347.2M1421.7 1347.2L1431.1 1337.8"/>
<path d="M1422.9 1322.5H1436.1M1429.5 1315.9V1329.1M1424.8 1317.8L1434.2 1327.1M1424.8 1327.1L1434.2 1317.8"/>
<path d="M1426 1342.3H1439.2M1432.6 1335.7V1348.9M1428 1337.7L1437.3 1347M1428 1347L1437.3 1337.7"/>
<path d="M1429.2 1321.4H1442.4M1435.8 1314.8V1328M1431.1 1316.7L1440.4 1326M1431.1 1326L1440.4 1316.7"/>
<path d="M1432.3 1347H1445.5M1438.9 1340.4V1353.6M1434.2 1342.3L1443.6 1351.7M1434.2 1351.7L1443.6 1342.3"/>
<path d="M1435.4 1320.9H1448.6M1442 1314.3V1327.5M1437.4 1316.3L1446.7 1325.6M1437.4 1325.6L1446.7 1316.3"/>
<path d="M1438.5 1346.3H1451.7M1445.1 1339.7V1352.9M1440.5 1341.6L1449.8 1350.9M1440.5 1350.9L1449.8 1341.6"/>
<path d="M1441.7 1321.5H1454.9M1448.3 1314.9V1328.1M1443.6 1316.9L1452.9 1326.2M1443.6 1326.2L1452.9 1316.9"/>
<path d="M1444.8 1342H1458M1451.4 1335.4V1348.6M1446.7 1337.3L1456.1 1346.7M1446.7 1346.7L1456.1 1337.3"/>
<path d="M1447.9 1325.8H1461.1M1454.5 1319.2V1332.4M1449.9 1321.2L1459.2 1330.5M1449.9 1330.5L1459.2 1321.2"/>
<path d="M1451.1 1340.3H1464.3M1457.7 1333.7V1346.9M1453 1335.6L1462.3 1345M1453 1345L1462.3 1335.6"/>
<path d="M1454.2 1326.1H1467.4M1460.8 1319.5V1332.7M1456.1 1321.4L1465.4 1330.8M1456.1 1330.8L1465.4 1321.4"/>
<path d="M1457.3 1341H1470.5M1463.9 1334.4V1347.6M1459.2 1336.3L1468.6 1345.7M1459.2 1345.7L1468.6 1336.3"/>
<path d="M1460.4 1327.3H1473.6M1467 1320.7V1333.9M1462.4 1322.6L1471.7 1332M1462.4 1332L1471.7 1322.6"/>
<path d="M1463.6 1344.4H1476.8M1470.2 1337.8V1351M1465.5 1339.8L1474.8 1349.1M1465.5 1349.1L1474.8 1339.8"/>
<path d="M1466.7 1351H1479.9M1473.3 1344.4V1357.6M1468.6 1346.3L1478 1355.7M1468.6 1355.7L1478 1346.3"/>
<path d="M1469.8 1344.9H1483M1476.4 1338.3V1351.5M1471.7 1340.2L1481.1 1349.5M1471.7 1349.5L1481.1 1340.2"/>
<path d="M1472.9 1328.6H1486.1M1479.5 1322V1335.2M1474.9 1323.9L1484.2 1333.3M1474.9 1333.3L1484.2 1323.9"/>
<path d="M1476.1 1345.6H1489.3M1482.7 1339V1352.2M1478 1341L1487.3 1350.3M1478 1350.3L1487.3 1341"/>
<path d="M1479.2 1327.1H1492.4M1485.8 1320.5V1333.7M1481.1 1322.4L1490.5 1331.7M1481.1 1331.7L1490.5 1322.4"/>
<path d="M1482.3 1353H1495.5M1488.9 1346.4V1359.6M1484.3 1348.3L1493.6 1357.7M1484.3 1357.7L1493.6 1348.3"/>
<path d="M1485.4 1323.7H1498.6M1492 1317.1V1330.3M1487.4 1319L1496.7 1328.4M1487.4 1328.4L1496.7 1319"/>
<path d="M1488.6 1349.4H1501.8M1495.2 1342.8V1356M1490.5 1344.7L1499.8 1354M1490.5 1354L1499.8 1344.7"/>
<path d="M1491.7 1275H1504.9M1498.3 1268.4V1281.6M1493.6 1270.3L1503 1279.7M1493.6 1279.7L1503 1270.3"/>
<path d="M1494.8 1345.1H1508M1501.4 1338.5V1351.7M1496.8 1340.4L1506.1 1349.7M1496.8 1349.7L1506.1 1340.4"/>
<path d="M1498 1327.4H1511.2M1504.6 1320.8V1334M1499.9 1322.7L1509.2 1332M1499.9 1332L1509.2 1322.7"/>
<path d="M1501.1 1343.9H1514.3M1507.7 1337.3V1350.5M1503 1339.2L1512.3 1348.5M1503 1348.5L1512.3 1339.2"/>
</g></g>
<g font-family="'Liberation Serif', 'Times New Roman', serif" font-size="39.1" fill="#000">
<text x="293.8" y="1484.7">Frequency (Hz)</text>
<text x="1090.2" y="1484.7">Frequency (Hz)</text>
<text transform="translate(32.7 782.3) rotate(-90)">Current (A)</text>
<text transform="translate(829.2 782.3) rotate(-90)">Current (A)</text>
</g>
</svg>
</body></html>
